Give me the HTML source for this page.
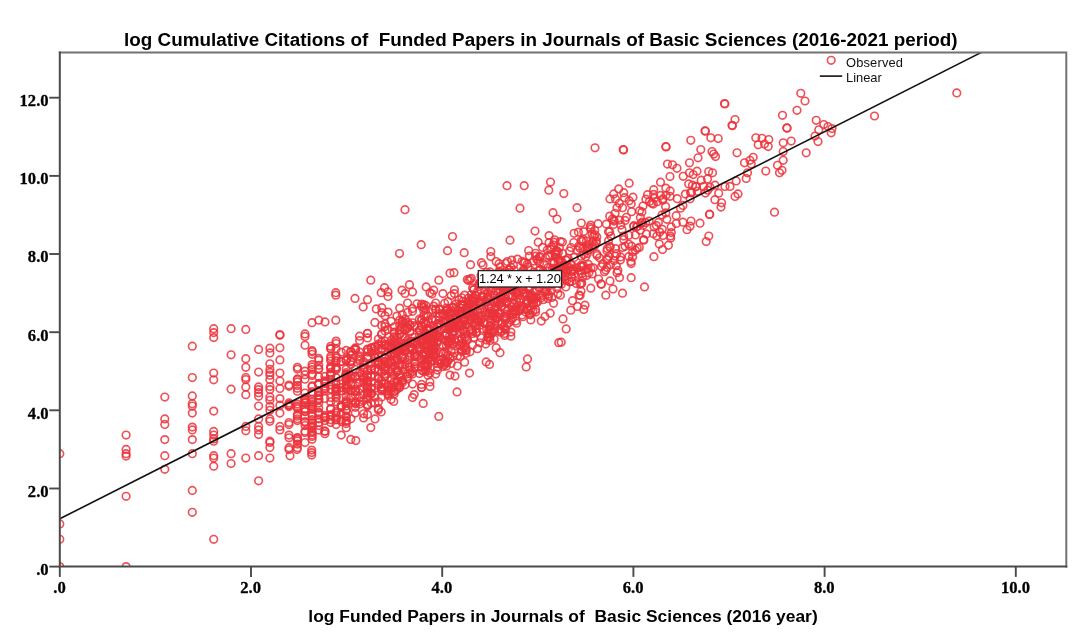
<!DOCTYPE html>
<html><head><meta charset="utf-8"><title>Scatter</title>
<style>
html,body{margin:0;padding:0;background:#fff;}
body{width:1087px;height:642px;overflow:hidden;}
svg{display:block;will-change:transform;}
svg{font-family:"Liberation Sans",sans-serif;}
.tk{font-family:"Liberation Serif",serif;font-weight:bold;font-size:17.2px;fill:#000;stroke:#000;stroke-width:0.3px;}
.ttl{font-weight:bold;fill:#000;}
.lg{font-size:12.9px;fill:#111;}
</style></head><body>
<svg width="1087" height="642" viewBox="0 0 1087 642">
<rect x="0" y="0" width="1087" height="642" fill="#fff"/>
<defs><clipPath id="cp"><rect x="59.8" y="52.4" width="1006.5" height="514.2"/></clipPath></defs>
<g clip-path="url(#cp)" fill="none" stroke="#eb333b" stroke-width="1.65" stroke-opacity="0.85">
<circle cx="59.8" cy="453.7" r="3.8"/><circle cx="59.8" cy="523.9" r="3.8"/><circle cx="59.8" cy="539.3" r="3.8"/><circle cx="59.8" cy="566.6" r="3.8"/><circle cx="126.1" cy="435.0" r="3.8"/><circle cx="126.1" cy="449.4" r="3.8"/>
<circle cx="126.1" cy="453.7" r="3.8"/><circle cx="126.1" cy="456.1" r="3.8"/><circle cx="126.1" cy="496.3" r="3.8"/><circle cx="126.1" cy="566.6" r="3.8"/><circle cx="164.8" cy="397.0" r="3.8"/><circle cx="164.8" cy="418.9" r="3.8"/>
<circle cx="164.8" cy="424.4" r="3.8"/><circle cx="164.8" cy="439.6" r="3.8"/><circle cx="164.8" cy="455.7" r="3.8"/><circle cx="164.8" cy="469.3" r="3.8"/><circle cx="192.3" cy="346.2" r="3.8"/><circle cx="192.3" cy="377.5" r="3.8"/>
<circle cx="192.3" cy="395.9" r="3.8"/><circle cx="192.3" cy="403.7" r="3.8"/><circle cx="192.3" cy="406.0" r="3.8"/><circle cx="192.3" cy="413.1" r="3.8"/><circle cx="192.3" cy="427.1" r="3.8"/><circle cx="192.3" cy="429.9" r="3.8"/>
<circle cx="192.3" cy="439.6" r="3.8"/><circle cx="192.3" cy="453.7" r="3.8"/><circle cx="192.3" cy="490.4" r="3.8"/><circle cx="192.3" cy="512.3" r="3.8"/><circle cx="213.7" cy="328.7" r="3.8"/><circle cx="213.7" cy="332.6" r="3.8"/>
<circle cx="213.7" cy="337.6" r="3.8"/><circle cx="213.7" cy="373.0" r="3.8"/><circle cx="213.7" cy="379.8" r="3.8"/><circle cx="213.7" cy="411.1" r="3.8"/><circle cx="213.7" cy="431.4" r="3.8"/><circle cx="213.7" cy="435.0" r="3.8"/>
<circle cx="213.7" cy="438.9" r="3.8"/><circle cx="213.7" cy="441.2" r="3.8"/><circle cx="213.7" cy="455.7" r="3.8"/><circle cx="213.7" cy="458.0" r="3.8"/><circle cx="213.7" cy="466.2" r="3.8"/><circle cx="213.7" cy="539.3" r="3.8"/>
<circle cx="231.1" cy="328.7" r="3.8"/><circle cx="231.1" cy="354.8" r="3.8"/><circle cx="231.1" cy="389.2" r="3.8"/><circle cx="231.1" cy="453.7" r="3.8"/><circle cx="231.1" cy="463.5" r="3.8"/><circle cx="245.8" cy="329.4" r="3.8"/>
<circle cx="245.8" cy="358.7" r="3.8"/><circle cx="245.8" cy="367.3" r="3.8"/><circle cx="245.8" cy="377.5" r="3.8"/><circle cx="245.8" cy="379.5" r="3.8"/><circle cx="245.8" cy="386.9" r="3.8"/><circle cx="245.8" cy="394.7" r="3.8"/>
<circle cx="245.8" cy="426.4" r="3.8"/><circle cx="245.8" cy="430.8" r="3.8"/><circle cx="245.8" cy="458.0" r="3.8"/><circle cx="258.6" cy="349.4" r="3.8"/><circle cx="258.6" cy="372.0" r="3.8"/><circle cx="258.6" cy="386.9" r="3.8"/>
<circle cx="258.6" cy="389.6" r="3.8"/><circle cx="258.6" cy="392.7" r="3.8"/><circle cx="258.6" cy="396.3" r="3.8"/><circle cx="258.6" cy="406.0" r="3.8"/><circle cx="258.6" cy="418.9" r="3.8"/><circle cx="258.6" cy="426.4" r="3.8"/>
<circle cx="258.6" cy="429.9" r="3.8"/><circle cx="258.6" cy="434.6" r="3.8"/><circle cx="258.6" cy="455.7" r="3.8"/><circle cx="258.6" cy="480.8" r="3.8"/><circle cx="269.9" cy="348.2" r="3.8"/><circle cx="269.9" cy="352.9" r="3.8"/>
<circle cx="269.9" cy="363.8" r="3.8"/><circle cx="269.9" cy="369.3" r="3.8"/><circle cx="269.9" cy="372.4" r="3.8"/><circle cx="269.9" cy="375.2" r="3.8"/><circle cx="269.9" cy="379.8" r="3.8"/><circle cx="269.9" cy="386.5" r="3.8"/>
<circle cx="269.9" cy="389.6" r="3.8"/><circle cx="269.9" cy="397.0" r="3.8"/><circle cx="269.9" cy="400.2" r="3.8"/><circle cx="269.9" cy="406.4" r="3.8"/><circle cx="269.9" cy="410.3" r="3.8"/><circle cx="269.9" cy="418.9" r="3.8"/>
<circle cx="269.9" cy="421.3" r="3.8"/><circle cx="269.9" cy="441.2" r="3.8"/><circle cx="269.9" cy="442.4" r="3.8"/><circle cx="269.9" cy="447.5" r="3.8"/><circle cx="269.9" cy="458.0" r="3.8"/><circle cx="279.9" cy="334.5" r="3.8"/>
<circle cx="279.9" cy="335.3" r="3.8"/><circle cx="279.9" cy="347.8" r="3.8"/><circle cx="279.9" cy="359.9" r="3.8"/><circle cx="279.9" cy="373.0" r="3.8"/><circle cx="279.9" cy="381.0" r="3.8"/><circle cx="279.9" cy="388.4" r="3.8"/>
<circle cx="279.9" cy="398.6" r="3.8"/><circle cx="279.9" cy="405.2" r="3.8"/><circle cx="279.9" cy="413.1" r="3.8"/><circle cx="279.9" cy="426.4" r="3.8"/><circle cx="279.9" cy="429.9" r="3.8"/><circle cx="405.0" cy="209.7" r="3.8"/>
<circle cx="507.0" cy="185.7" r="3.8"/><circle cx="524.2" cy="185.7" r="3.8"/><circle cx="550.5" cy="182.0" r="3.8"/><circle cx="548.8" cy="190.2" r="3.8"/><circle cx="520.0" cy="208.2" r="3.8"/><circle cx="553.0" cy="212.7" r="3.8"/>
<circle cx="557.0" cy="219.0" r="3.8"/><circle cx="535.0" cy="231.0" r="3.8"/><circle cx="510.0" cy="240.2" r="3.8"/><circle cx="452.5" cy="236.5" r="3.8"/><circle cx="421.2" cy="244.7" r="3.8"/><circle cx="399.5" cy="253.5" r="3.8"/>
<circle cx="447.5" cy="250.7" r="3.8"/><circle cx="464.2" cy="252.7" r="3.8"/><circle cx="490.8" cy="251.5" r="3.8"/><circle cx="490.8" cy="256.5" r="3.8"/><circle cx="470.5" cy="264.7" r="3.8"/><circle cx="481.5" cy="262.7" r="3.8"/>
<circle cx="483.0" cy="265.0" r="3.8"/><circle cx="450.0" cy="273.2" r="3.8"/><circle cx="454.0" cy="272.7" r="3.8"/><circle cx="438.8" cy="280.2" r="3.8"/><circle cx="370.8" cy="280.2" r="3.8"/><circle cx="335.8" cy="292.7" r="3.8"/>
<circle cx="335.8" cy="295.2" r="3.8"/><circle cx="355.0" cy="298.4" r="3.8"/><circle cx="367.5" cy="299.7" r="3.8"/><circle cx="363.2" cy="306.9" r="3.8"/><circle cx="384.5" cy="287.7" r="3.8"/><circle cx="381.2" cy="292.7" r="3.8"/>
<circle cx="388.0" cy="291.9" r="3.8"/><circle cx="388.0" cy="296.4" r="3.8"/><circle cx="376.3" cy="308.9" r="3.8"/><circle cx="381.8" cy="307.7" r="3.8"/><circle cx="381.8" cy="312.7" r="3.8"/><circle cx="409.5" cy="284.7" r="3.8"/>
<circle cx="402.0" cy="290.2" r="3.8"/><circle cx="405.0" cy="293.4" r="3.8"/><circle cx="412.5" cy="291.9" r="3.8"/><circle cx="312.0" cy="322.7" r="3.8"/><circle cx="318.8" cy="320.2" r="3.8"/><circle cx="325.0" cy="321.9" r="3.8"/>
<circle cx="335.8" cy="320.2" r="3.8"/><circle cx="426.2" cy="286.9" r="3.8"/><circle cx="430.0" cy="292.7" r="3.8"/><circle cx="433.7" cy="290.2" r="3.8"/><circle cx="305.0" cy="333.9" r="3.8"/><circle cx="305.0" cy="336.4" r="3.8"/>
<circle cx="305.0" cy="345.2" r="3.8"/><circle cx="311.7" cy="450.1" r="3.8"/><circle cx="311.7" cy="452.6" r="3.8"/><circle cx="311.7" cy="455.1" r="3.8"/><circle cx="297.0" cy="449.6" r="3.8"/><circle cx="290.0" cy="455.8" r="3.8"/>
<circle cx="341.2" cy="435.1" r="3.8"/><circle cx="350.8" cy="439.4" r="3.8"/><circle cx="355.8" cy="440.6" r="3.8"/><circle cx="370.8" cy="427.6" r="3.8"/><circle cx="375.0" cy="418.9" r="3.8"/><circle cx="381.2" cy="411.9" r="3.8"/>
<circle cx="438.8" cy="416.4" r="3.8"/><circle cx="423.2" cy="403.4" r="3.8"/><circle cx="457.0" cy="391.9" r="3.8"/><circle cx="469.5" cy="373.1" r="3.8"/><circle cx="526.2" cy="366.9" r="3.8"/><circle cx="527.5" cy="358.9" r="3.8"/>
<circle cx="558.7" cy="342.7" r="3.8"/><circle cx="489.5" cy="364.4" r="3.8"/><circle cx="486.2" cy="361.9" r="3.8"/><circle cx="500.0" cy="352.7" r="3.8"/><circle cx="496.2" cy="347.7" r="3.8"/><circle cx="430.0" cy="386.4" r="3.8"/>
<circle cx="412.5" cy="397.6" r="3.8"/><circle cx="414.2" cy="394.6" r="3.8"/><circle cx="393.8" cy="401.4" r="3.8"/><circle cx="455.0" cy="376.1" r="3.8"/><circle cx="450.0" cy="375.1" r="3.8"/><circle cx="595.0" cy="147.8" r="3.8"/>
<circle cx="623.2" cy="149.5" r="3.8"/><circle cx="623.6" cy="149.9" r="3.8"/><circle cx="665.8" cy="146.5" r="3.8"/><circle cx="666.1" cy="146.9" r="3.8"/><circle cx="724.5" cy="103.5" r="3.8"/><circle cx="724.9" cy="103.9" r="3.8"/>
<circle cx="735.0" cy="119.5" r="3.8"/><circle cx="732.0" cy="125.3" r="3.8"/><circle cx="732.4" cy="125.7" r="3.8"/><circle cx="705.0" cy="130.8" r="3.8"/><circle cx="705.4" cy="131.2" r="3.8"/><circle cx="710.8" cy="137.8" r="3.8"/>
<circle cx="718.2" cy="138.5" r="3.8"/><circle cx="690.8" cy="140.3" r="3.8"/><circle cx="700.8" cy="149.5" r="3.8"/><circle cx="698.0" cy="157.8" r="3.8"/><circle cx="712.0" cy="151.5" r="3.8"/><circle cx="713.7" cy="154.0" r="3.8"/>
<circle cx="715.5" cy="156.5" r="3.8"/><circle cx="737.0" cy="152.8" r="3.8"/><circle cx="689.5" cy="162.8" r="3.8"/><circle cx="667.5" cy="164.0" r="3.8"/><circle cx="672.5" cy="164.8" r="3.8"/><circle cx="677.0" cy="168.3" r="3.8"/>
<circle cx="670.0" cy="176.5" r="3.8"/><circle cx="660.5" cy="182.2" r="3.8"/><circle cx="629.2" cy="183.2" r="3.8"/><circle cx="618.7" cy="188.9" r="3.8"/><circle cx="623.7" cy="192.7" r="3.8"/><circle cx="613.7" cy="193.9" r="3.8"/>
<circle cx="610.0" cy="198.9" r="3.8"/><circle cx="615.5" cy="198.9" r="3.8"/><circle cx="624.5" cy="197.7" r="3.8"/><circle cx="633.0" cy="197.2" r="3.8"/><circle cx="631.2" cy="203.9" r="3.8"/><circle cx="622.5" cy="207.7" r="3.8"/>
<circle cx="563.8" cy="193.5" r="3.8"/><circle cx="577.0" cy="207.7" r="3.8"/><circle cx="689.5" cy="172.8" r="3.8"/><circle cx="693.2" cy="174.5" r="3.8"/><circle cx="688.7" cy="183.9" r="3.8"/><circle cx="692.5" cy="185.2" r="3.8"/>
<circle cx="696.2" cy="186.4" r="3.8"/><circle cx="708.7" cy="171.5" r="3.8"/><circle cx="712.5" cy="172.8" r="3.8"/><circle cx="707.5" cy="178.9" r="3.8"/><circle cx="701.2" cy="180.2" r="3.8"/><circle cx="703.7" cy="186.4" r="3.8"/>
<circle cx="710.0" cy="187.2" r="3.8"/><circle cx="653.7" cy="189.7" r="3.8"/><circle cx="647.5" cy="194.7" r="3.8"/><circle cx="649.5" cy="201.4" r="3.8"/><circle cx="800.8" cy="93.3" r="3.8"/><circle cx="805.0" cy="101.0" r="3.8"/>
<circle cx="797.0" cy="110.3" r="3.8"/><circle cx="782.5" cy="115.3" r="3.8"/><circle cx="786.8" cy="127.8" r="3.8"/><circle cx="787.1" cy="128.2" r="3.8"/><circle cx="816.2" cy="120.3" r="3.8"/><circle cx="823.8" cy="124.5" r="3.8"/>
<circle cx="828.0" cy="126.5" r="3.8"/><circle cx="832.0" cy="128.5" r="3.8"/><circle cx="818.8" cy="129.8" r="3.8"/><circle cx="831.2" cy="132.8" r="3.8"/><circle cx="815.0" cy="136.0" r="3.8"/><circle cx="818.0" cy="141.5" r="3.8"/>
<circle cx="755.8" cy="137.8" r="3.8"/><circle cx="762.0" cy="138.3" r="3.8"/><circle cx="768.8" cy="139.5" r="3.8"/><circle cx="758.2" cy="144.8" r="3.8"/><circle cx="764.5" cy="144.0" r="3.8"/><circle cx="768.2" cy="146.5" r="3.8"/>
<circle cx="783.2" cy="142.8" r="3.8"/><circle cx="791.2" cy="141.0" r="3.8"/><circle cx="783.2" cy="151.5" r="3.8"/><circle cx="806.2" cy="152.8" r="3.8"/><circle cx="783.2" cy="160.3" r="3.8"/><circle cx="777.5" cy="165.3" r="3.8"/>
<circle cx="782.0" cy="170.3" r="3.8"/><circle cx="779.5" cy="172.8" r="3.8"/><circle cx="765.8" cy="171.0" r="3.8"/><circle cx="753.2" cy="157.3" r="3.8"/><circle cx="750.0" cy="160.3" r="3.8"/><circle cx="751.2" cy="164.0" r="3.8"/>
<circle cx="744.5" cy="162.8" r="3.8"/><circle cx="747.5" cy="172.8" r="3.8"/><circle cx="746.2" cy="178.4" r="3.8"/><circle cx="736.2" cy="180.9" r="3.8"/><circle cx="738.0" cy="193.9" r="3.8"/><circle cx="735.0" cy="196.4" r="3.8"/>
<circle cx="725.0" cy="186.4" r="3.8"/><circle cx="730.0" cy="186.4" r="3.8"/><circle cx="718.7" cy="193.2" r="3.8"/><circle cx="715.0" cy="185.2" r="3.8"/><circle cx="874.5" cy="116.0" r="3.8"/><circle cx="956.8" cy="92.9" r="3.8"/>
<circle cx="774.5" cy="212.2" r="3.8"/><circle cx="721.0" cy="207.0" r="3.8"/><circle cx="709.5" cy="214.5" r="3.8"/><circle cx="700.0" cy="223.2" r="3.8"/><circle cx="691.0" cy="221.0" r="3.8"/><circle cx="687.0" cy="229.7" r="3.8"/>
<circle cx="690.0" cy="226.2" r="3.8"/><circle cx="708.8" cy="236.0" r="3.8"/><circle cx="706.2" cy="241.5" r="3.8"/><circle cx="662.5" cy="249.5" r="3.8"/><circle cx="643.8" cy="240.2" r="3.8"/><circle cx="631.2" cy="263.5" r="3.8"/>
<circle cx="631.2" cy="277.7" r="3.8"/><circle cx="644.5" cy="286.9" r="3.8"/><circle cx="617.0" cy="272.7" r="3.8"/><circle cx="616.2" cy="265.7" r="3.8"/><circle cx="622.5" cy="293.2" r="3.8"/><circle cx="613.0" cy="288.9" r="3.8"/>
<circle cx="605.8" cy="295.2" r="3.8"/><circle cx="610.0" cy="280.9" r="3.8"/><circle cx="601.0" cy="283.9" r="3.8"/><circle cx="601.4" cy="284.3" r="3.8"/><circle cx="590.8" cy="288.2" r="3.8"/><circle cx="581.0" cy="291.2" r="3.8"/>
<circle cx="579.0" cy="295.2" r="3.8"/><circle cx="572.5" cy="300.7" r="3.8"/><circle cx="577.5" cy="306.4" r="3.8"/><circle cx="585.0" cy="305.2" r="3.8"/><circle cx="583.8" cy="309.4" r="3.8"/><circle cx="570.8" cy="310.2" r="3.8"/>
<circle cx="563.0" cy="318.9" r="3.8"/><circle cx="566.2" cy="328.9" r="3.8"/><circle cx="561.2" cy="342.2" r="3.8"/><circle cx="509.2" cy="269.9" r="3.8"/><circle cx="405.0" cy="345.5" r="3.8"/><circle cx="394.1" cy="353.6" r="3.8"/>
<circle cx="451.2" cy="338.6" r="3.8"/><circle cx="546.8" cy="282.1" r="3.8"/><circle cx="388.1" cy="345.9" r="3.8"/><circle cx="488.9" cy="329.6" r="3.8"/><circle cx="483.4" cy="329.1" r="3.8"/><circle cx="514.2" cy="283.4" r="3.8"/>
<circle cx="566.8" cy="280.4" r="3.8"/><circle cx="374.9" cy="357.9" r="3.8"/><circle cx="324.9" cy="380.9" r="3.8"/><circle cx="374.9" cy="397.4" r="3.8"/><circle cx="429.9" cy="353.1" r="3.8"/><circle cx="346.2" cy="421.5" r="3.8"/>
<circle cx="542.6" cy="247.4" r="3.8"/><circle cx="346.2" cy="386.7" r="3.8"/><circle cx="399.7" cy="308.1" r="3.8"/><circle cx="419.4" cy="347.1" r="3.8"/><circle cx="410.0" cy="343.0" r="3.8"/><circle cx="449.6" cy="328.5" r="3.8"/>
<circle cx="656.9" cy="236.0" r="3.8"/><circle cx="613.9" cy="221.0" r="3.8"/><circle cx="350.9" cy="352.0" r="3.8"/><circle cx="473.8" cy="313.3" r="3.8"/><circle cx="497.1" cy="302.0" r="3.8"/><circle cx="330.7" cy="419.7" r="3.8"/>
<circle cx="330.7" cy="374.4" r="3.8"/><circle cx="606.7" cy="259.1" r="3.8"/><circle cx="405.0" cy="358.6" r="3.8"/><circle cx="473.8" cy="297.6" r="3.8"/><circle cx="452.8" cy="318.3" r="3.8"/><circle cx="520.6" cy="308.9" r="3.8"/>
<circle cx="374.9" cy="347.0" r="3.8"/><circle cx="665.8" cy="212.9" r="3.8"/><circle cx="498.1" cy="289.4" r="3.8"/><circle cx="439.4" cy="336.4" r="3.8"/><circle cx="444.6" cy="303.3" r="3.8"/><circle cx="336.1" cy="377.6" r="3.8"/>
<circle cx="388.1" cy="362.4" r="3.8"/><circle cx="471.3" cy="309.6" r="3.8"/><circle cx="385.0" cy="345.6" r="3.8"/><circle cx="423.7" cy="359.8" r="3.8"/><circle cx="449.6" cy="327.9" r="3.8"/><circle cx="410.0" cy="347.0" r="3.8"/>
<circle cx="490.0" cy="271.9" r="3.8"/><circle cx="318.7" cy="392.1" r="3.8"/><circle cx="388.1" cy="345.6" r="3.8"/><circle cx="367.5" cy="386.7" r="3.8"/><circle cx="435.7" cy="346.9" r="3.8"/><circle cx="572.8" cy="269.3" r="3.8"/>
<circle cx="548.5" cy="296.2" r="3.8"/><circle cx="596.4" cy="241.1" r="3.8"/><circle cx="378.4" cy="369.6" r="3.8"/><circle cx="312.1" cy="408.0" r="3.8"/><circle cx="515.1" cy="312.2" r="3.8"/><circle cx="410.0" cy="331.7" r="3.8"/>
<circle cx="385.0" cy="376.1" r="3.8"/><circle cx="452.8" cy="307.1" r="3.8"/><circle cx="543.2" cy="299.7" r="3.8"/><circle cx="405.0" cy="351.0" r="3.8"/><circle cx="435.7" cy="374.1" r="3.8"/><circle cx="452.8" cy="356.4" r="3.8"/>
<circle cx="414.8" cy="364.1" r="3.8"/><circle cx="402.4" cy="356.8" r="3.8"/><circle cx="312.1" cy="406.6" r="3.8"/><circle cx="423.7" cy="307.4" r="3.8"/><circle cx="545.6" cy="291.3" r="3.8"/><circle cx="599.5" cy="257.8" r="3.8"/>
<circle cx="394.1" cy="354.0" r="3.8"/><circle cx="346.2" cy="410.0" r="3.8"/><circle cx="551.3" cy="290.3" r="3.8"/><circle cx="602.8" cy="263.7" r="3.8"/><circle cx="476.3" cy="328.7" r="3.8"/><circle cx="566.8" cy="265.7" r="3.8"/>
<circle cx="433.8" cy="346.0" r="3.8"/><circle cx="330.7" cy="361.0" r="3.8"/><circle cx="425.8" cy="360.2" r="3.8"/><circle cx="454.4" cy="289.8" r="3.8"/><circle cx="336.1" cy="355.9" r="3.8"/><circle cx="367.5" cy="333.5" r="3.8"/>
<circle cx="479.9" cy="282.4" r="3.8"/><circle cx="374.9" cy="361.2" r="3.8"/><circle cx="564.9" cy="276.4" r="3.8"/><circle cx="662.7" cy="200.3" r="3.8"/><circle cx="512.6" cy="289.5" r="3.8"/><circle cx="454.4" cy="339.4" r="3.8"/>
<circle cx="579.7" cy="248.1" r="3.8"/><circle cx="507.4" cy="261.5" r="3.8"/><circle cx="463.2" cy="329.0" r="3.8"/><circle cx="476.3" cy="333.0" r="3.8"/><circle cx="515.1" cy="282.4" r="3.8"/><circle cx="417.1" cy="350.6" r="3.8"/>
<circle cx="454.4" cy="327.2" r="3.8"/><circle cx="355.3" cy="347.9" r="3.8"/><circle cx="431.9" cy="318.4" r="3.8"/><circle cx="355.3" cy="348.9" r="3.8"/><circle cx="452.8" cy="307.5" r="3.8"/><circle cx="410.0" cy="370.1" r="3.8"/>
<circle cx="501.0" cy="301.8" r="3.8"/><circle cx="427.9" cy="346.0" r="3.8"/><circle cx="444.6" cy="328.3" r="3.8"/><circle cx="554.1" cy="263.2" r="3.8"/><circle cx="497.1" cy="316.7" r="3.8"/><circle cx="359.6" cy="340.6" r="3.8"/>
<circle cx="530.8" cy="319.9" r="3.8"/><circle cx="448.0" cy="341.7" r="3.8"/><circle cx="515.9" cy="289.3" r="3.8"/><circle cx="473.8" cy="306.6" r="3.8"/><circle cx="477.5" cy="310.7" r="3.8"/><circle cx="491.0" cy="329.3" r="3.8"/>
<circle cx="381.7" cy="390.8" r="3.8"/><circle cx="425.8" cy="370.1" r="3.8"/><circle cx="571.0" cy="247.5" r="3.8"/><circle cx="412.5" cy="308.5" r="3.8"/><circle cx="538.2" cy="282.1" r="3.8"/><circle cx="363.6" cy="413.8" r="3.8"/>
<circle cx="475.1" cy="308.5" r="3.8"/><circle cx="385.0" cy="330.9" r="3.8"/><circle cx="410.0" cy="341.7" r="3.8"/><circle cx="569.6" cy="281.8" r="3.8"/><circle cx="451.2" cy="350.7" r="3.8"/><circle cx="336.1" cy="388.7" r="3.8"/>
<circle cx="530.2" cy="287.5" r="3.8"/><circle cx="490.0" cy="311.0" r="3.8"/><circle cx="391.1" cy="362.4" r="3.8"/><circle cx="570.5" cy="264.0" r="3.8"/><circle cx="359.6" cy="404.1" r="3.8"/><circle cx="433.8" cy="348.9" r="3.8"/>
<circle cx="637.5" cy="226.3" r="3.8"/><circle cx="550.2" cy="313.2" r="3.8"/><circle cx="646.4" cy="233.9" r="3.8"/><circle cx="461.8" cy="312.5" r="3.8"/><circle cx="534.9" cy="282.8" r="3.8"/><circle cx="312.1" cy="435.1" r="3.8"/>
<circle cx="494.1" cy="313.7" r="3.8"/><circle cx="495.2" cy="321.0" r="3.8"/><circle cx="388.1" cy="329.6" r="3.8"/><circle cx="461.8" cy="325.7" r="3.8"/><circle cx="483.4" cy="282.4" r="3.8"/><circle cx="467.3" cy="307.4" r="3.8"/>
<circle cx="486.7" cy="298.9" r="3.8"/><circle cx="548.5" cy="294.2" r="3.8"/><circle cx="336.1" cy="390.8" r="3.8"/><circle cx="297.4" cy="447.7" r="3.8"/><circle cx="427.9" cy="316.0" r="3.8"/><circle cx="367.5" cy="414.6" r="3.8"/>
<circle cx="522.9" cy="270.9" r="3.8"/><circle cx="585.7" cy="269.5" r="3.8"/><circle cx="493.1" cy="280.4" r="3.8"/><circle cx="523.7" cy="284.6" r="3.8"/><circle cx="324.9" cy="388.3" r="3.8"/><circle cx="534.2" cy="284.3" r="3.8"/>
<circle cx="475.1" cy="317.9" r="3.8"/><circle cx="385.0" cy="384.0" r="3.8"/><circle cx="381.7" cy="342.0" r="3.8"/><circle cx="433.8" cy="331.8" r="3.8"/><circle cx="533.6" cy="278.8" r="3.8"/><circle cx="324.9" cy="415.4" r="3.8"/>
<circle cx="381.7" cy="387.5" r="3.8"/><circle cx="488.9" cy="313.7" r="3.8"/><circle cx="297.4" cy="385.5" r="3.8"/><circle cx="419.4" cy="373.5" r="3.8"/><circle cx="312.1" cy="350.7" r="3.8"/><circle cx="433.8" cy="341.3" r="3.8"/>
<circle cx="346.2" cy="416.2" r="3.8"/><circle cx="355.3" cy="391.7" r="3.8"/><circle cx="346.2" cy="372.7" r="3.8"/><circle cx="439.4" cy="313.6" r="3.8"/><circle cx="649.2" cy="221.1" r="3.8"/><circle cx="573.7" cy="271.1" r="3.8"/>
<circle cx="359.6" cy="357.3" r="3.8"/><circle cx="505.6" cy="296.7" r="3.8"/><circle cx="385.0" cy="315.8" r="3.8"/><circle cx="504.7" cy="333.4" r="3.8"/><circle cx="336.1" cy="413.0" r="3.8"/><circle cx="442.9" cy="366.6" r="3.8"/>
<circle cx="490.0" cy="340.6" r="3.8"/><circle cx="626.4" cy="217.3" r="3.8"/><circle cx="498.1" cy="313.0" r="3.8"/><circle cx="318.7" cy="413.0" r="3.8"/><circle cx="378.4" cy="363.3" r="3.8"/><circle cx="350.9" cy="376.4" r="3.8"/>
<circle cx="359.6" cy="382.3" r="3.8"/><circle cx="437.5" cy="323.9" r="3.8"/><circle cx="446.3" cy="362.4" r="3.8"/><circle cx="318.7" cy="358.4" r="3.8"/><circle cx="429.9" cy="357.5" r="3.8"/><circle cx="346.2" cy="359.4" r="3.8"/>
<circle cx="324.9" cy="381.6" r="3.8"/><circle cx="449.6" cy="336.0" r="3.8"/><circle cx="312.1" cy="385.9" r="3.8"/><circle cx="635.4" cy="250.2" r="3.8"/><circle cx="560.4" cy="241.6" r="3.8"/><circle cx="451.2" cy="311.3" r="3.8"/>
<circle cx="521.4" cy="306.3" r="3.8"/><circle cx="541.3" cy="277.8" r="3.8"/><circle cx="504.7" cy="328.7" r="3.8"/><circle cx="485.6" cy="276.5" r="3.8"/><circle cx="378.4" cy="377.6" r="3.8"/><circle cx="448.0" cy="312.6" r="3.8"/>
<circle cx="431.9" cy="334.9" r="3.8"/><circle cx="460.3" cy="304.5" r="3.8"/><circle cx="394.1" cy="360.2" r="3.8"/><circle cx="297.4" cy="418.8" r="3.8"/><circle cx="394.1" cy="381.9" r="3.8"/><circle cx="507.4" cy="301.3" r="3.8"/>
<circle cx="359.6" cy="361.0" r="3.8"/><circle cx="573.7" cy="242.5" r="3.8"/><circle cx="371.3" cy="347.6" r="3.8"/><circle cx="355.3" cy="413.0" r="3.8"/><circle cx="553.0" cy="283.7" r="3.8"/><circle cx="363.6" cy="379.6" r="3.8"/>
<circle cx="670.7" cy="237.9" r="3.8"/><circle cx="336.1" cy="341.1" r="3.8"/><circle cx="500.1" cy="296.2" r="3.8"/><circle cx="517.5" cy="259.1" r="3.8"/><circle cx="530.2" cy="314.8" r="3.8"/><circle cx="336.1" cy="367.3" r="3.8"/>
<circle cx="429.9" cy="373.0" r="3.8"/><circle cx="581.3" cy="283.7" r="3.8"/><circle cx="657.3" cy="201.7" r="3.8"/><circle cx="394.1" cy="332.7" r="3.8"/><circle cx="371.3" cy="393.0" r="3.8"/><circle cx="346.2" cy="402.9" r="3.8"/>
<circle cx="448.0" cy="355.3" r="3.8"/><circle cx="467.3" cy="311.4" r="3.8"/><circle cx="318.7" cy="383.7" r="3.8"/><circle cx="562.9" cy="266.7" r="3.8"/><circle cx="504.7" cy="335.4" r="3.8"/><circle cx="590.7" cy="225.1" r="3.8"/>
<circle cx="452.8" cy="331.3" r="3.8"/><circle cx="312.1" cy="427.7" r="3.8"/><circle cx="460.3" cy="326.4" r="3.8"/><circle cx="538.2" cy="242.2" r="3.8"/><circle cx="498.1" cy="322.4" r="3.8"/><circle cx="516.7" cy="293.1" r="3.8"/>
<circle cx="451.2" cy="295.6" r="3.8"/><circle cx="543.8" cy="273.1" r="3.8"/><circle cx="381.7" cy="396.9" r="3.8"/><circle cx="577.6" cy="250.2" r="3.8"/><circle cx="324.9" cy="431.2" r="3.8"/><circle cx="532.9" cy="280.0" r="3.8"/>
<circle cx="437.5" cy="361.0" r="3.8"/><circle cx="596.8" cy="237.0" r="3.8"/><circle cx="554.1" cy="283.2" r="3.8"/><circle cx="414.8" cy="326.9" r="3.8"/><circle cx="534.2" cy="272.1" r="3.8"/><circle cx="396.9" cy="354.3" r="3.8"/>
<circle cx="427.9" cy="351.0" r="3.8"/><circle cx="481.1" cy="302.1" r="3.8"/><circle cx="556.2" cy="254.7" r="3.8"/><circle cx="399.7" cy="387.5" r="3.8"/><circle cx="425.8" cy="337.7" r="3.8"/><circle cx="346.2" cy="350.4" r="3.8"/>
<circle cx="580.1" cy="284.1" r="3.8"/><circle cx="355.3" cy="376.4" r="3.8"/><circle cx="355.3" cy="401.8" r="3.8"/><circle cx="355.3" cy="403.5" r="3.8"/><circle cx="419.4" cy="330.0" r="3.8"/><circle cx="455.9" cy="303.9" r="3.8"/>
<circle cx="297.4" cy="414.6" r="3.8"/><circle cx="482.2" cy="300.4" r="3.8"/><circle cx="427.9" cy="330.4" r="3.8"/><circle cx="494.1" cy="339.0" r="3.8"/><circle cx="641.0" cy="223.4" r="3.8"/><circle cx="576.7" cy="267.9" r="3.8"/>
<circle cx="560.4" cy="261.2" r="3.8"/><circle cx="490.0" cy="279.8" r="3.8"/><circle cx="506.5" cy="303.6" r="3.8"/><circle cx="305.0" cy="409.3" r="3.8"/><circle cx="490.0" cy="295.5" r="3.8"/><circle cx="399.7" cy="333.8" r="3.8"/>
<circle cx="391.1" cy="321.3" r="3.8"/><circle cx="466.0" cy="308.3" r="3.8"/><circle cx="350.9" cy="361.6" r="3.8"/><circle cx="549.1" cy="242.6" r="3.8"/><circle cx="289.0" cy="406.6" r="3.8"/><circle cx="472.6" cy="299.8" r="3.8"/>
<circle cx="488.9" cy="334.2" r="3.8"/><circle cx="559.4" cy="247.5" r="3.8"/><circle cx="410.0" cy="347.0" r="3.8"/><circle cx="407.6" cy="373.8" r="3.8"/><circle cx="423.7" cy="364.6" r="3.8"/><circle cx="481.1" cy="318.7" r="3.8"/>
<circle cx="312.1" cy="432.4" r="3.8"/><circle cx="429.9" cy="338.3" r="3.8"/><circle cx="437.5" cy="335.8" r="3.8"/><circle cx="446.3" cy="345.1" r="3.8"/><circle cx="464.6" cy="337.5" r="3.8"/><circle cx="363.6" cy="377.3" r="3.8"/>
<circle cx="402.4" cy="344.1" r="3.8"/><circle cx="396.9" cy="371.6" r="3.8"/><circle cx="503.8" cy="326.5" r="3.8"/><circle cx="633.8" cy="226.5" r="3.8"/><circle cx="515.9" cy="310.4" r="3.8"/><circle cx="427.9" cy="339.2" r="3.8"/>
<circle cx="402.4" cy="346.4" r="3.8"/><circle cx="477.5" cy="348.7" r="3.8"/><circle cx="475.1" cy="325.5" r="3.8"/><circle cx="691.5" cy="192.8" r="3.8"/><circle cx="487.8" cy="296.7" r="3.8"/><circle cx="500.1" cy="289.6" r="3.8"/>
<circle cx="471.3" cy="319.0" r="3.8"/><circle cx="346.2" cy="423.5" r="3.8"/><circle cx="399.7" cy="363.7" r="3.8"/><circle cx="522.1" cy="279.2" r="3.8"/><circle cx="448.0" cy="342.5" r="3.8"/><circle cx="439.4" cy="337.5" r="3.8"/>
<circle cx="427.9" cy="365.5" r="3.8"/><circle cx="547.9" cy="255.4" r="3.8"/><circle cx="312.1" cy="422.5" r="3.8"/><circle cx="451.2" cy="363.5" r="3.8"/><circle cx="508.3" cy="295.5" r="3.8"/><circle cx="528.0" cy="310.3" r="3.8"/>
<circle cx="643.6" cy="239.6" r="3.8"/><circle cx="289.0" cy="402.9" r="3.8"/><circle cx="423.7" cy="331.1" r="3.8"/><circle cx="318.7" cy="399.5" r="3.8"/><circle cx="374.9" cy="369.8" r="3.8"/><circle cx="490.0" cy="315.9" r="3.8"/>
<circle cx="407.6" cy="327.5" r="3.8"/><circle cx="419.4" cy="347.9" r="3.8"/><circle cx="437.5" cy="342.6" r="3.8"/><circle cx="341.3" cy="387.5" r="3.8"/><circle cx="458.9" cy="345.3" r="3.8"/><circle cx="457.4" cy="365.9" r="3.8"/>
<circle cx="363.6" cy="387.1" r="3.8"/><circle cx="402.4" cy="336.3" r="3.8"/><circle cx="394.1" cy="326.9" r="3.8"/><circle cx="500.1" cy="266.9" r="3.8"/><circle cx="425.8" cy="315.9" r="3.8"/><circle cx="414.8" cy="366.6" r="3.8"/>
<circle cx="324.9" cy="388.7" r="3.8"/><circle cx="289.0" cy="447.7" r="3.8"/><circle cx="595.0" cy="234.8" r="3.8"/><circle cx="494.1" cy="330.5" r="3.8"/><circle cx="560.9" cy="274.1" r="3.8"/><circle cx="471.3" cy="329.7" r="3.8"/>
<circle cx="482.2" cy="295.7" r="3.8"/><circle cx="529.4" cy="276.6" r="3.8"/><circle cx="523.7" cy="269.7" r="3.8"/><circle cx="385.0" cy="370.3" r="3.8"/><circle cx="502.9" cy="300.0" r="3.8"/><circle cx="497.1" cy="279.1" r="3.8"/>
<circle cx="466.0" cy="348.0" r="3.8"/><circle cx="586.5" cy="241.0" r="3.8"/><circle cx="336.1" cy="367.3" r="3.8"/><circle cx="546.8" cy="276.8" r="3.8"/><circle cx="410.0" cy="324.9" r="3.8"/><circle cx="541.3" cy="279.5" r="3.8"/>
<circle cx="697.2" cy="191.3" r="3.8"/><circle cx="486.7" cy="323.9" r="3.8"/><circle cx="435.7" cy="352.6" r="3.8"/><circle cx="367.5" cy="381.6" r="3.8"/><circle cx="412.5" cy="342.0" r="3.8"/><circle cx="540.7" cy="284.0" r="3.8"/>
<circle cx="501.0" cy="298.3" r="3.8"/><circle cx="402.4" cy="354.3" r="3.8"/><circle cx="423.7" cy="339.9" r="3.8"/><circle cx="503.8" cy="276.4" r="3.8"/><circle cx="341.3" cy="413.8" r="3.8"/><circle cx="324.9" cy="417.0" r="3.8"/>
<circle cx="470.0" cy="279.3" r="3.8"/><circle cx="614.2" cy="260.5" r="3.8"/><circle cx="558.3" cy="267.8" r="3.8"/><circle cx="509.2" cy="322.6" r="3.8"/><circle cx="628.9" cy="235.2" r="3.8"/><circle cx="417.1" cy="344.8" r="3.8"/>
<circle cx="574.1" cy="257.5" r="3.8"/><circle cx="676.3" cy="223.4" r="3.8"/><circle cx="538.2" cy="261.1" r="3.8"/><circle cx="437.5" cy="363.5" r="3.8"/><circle cx="330.7" cy="379.6" r="3.8"/><circle cx="391.1" cy="380.2" r="3.8"/>
<circle cx="439.4" cy="324.6" r="3.8"/><circle cx="607.0" cy="267.4" r="3.8"/><circle cx="399.7" cy="375.0" r="3.8"/><circle cx="305.0" cy="442.5" r="3.8"/><circle cx="324.9" cy="433.7" r="3.8"/><circle cx="419.4" cy="349.5" r="3.8"/>
<circle cx="371.3" cy="394.0" r="3.8"/><circle cx="381.7" cy="356.6" r="3.8"/><circle cx="341.3" cy="407.3" r="3.8"/><circle cx="473.8" cy="300.9" r="3.8"/><circle cx="419.4" cy="335.2" r="3.8"/><circle cx="463.2" cy="329.9" r="3.8"/>
<circle cx="656.4" cy="225.6" r="3.8"/><circle cx="496.2" cy="319.0" r="3.8"/><circle cx="419.4" cy="319.2" r="3.8"/><circle cx="449.6" cy="312.7" r="3.8"/><circle cx="571.9" cy="265.2" r="3.8"/><circle cx="612.4" cy="219.0" r="3.8"/>
<circle cx="532.2" cy="302.7" r="3.8"/><circle cx="490.0" cy="325.7" r="3.8"/><circle cx="381.7" cy="389.5" r="3.8"/><circle cx="429.9" cy="381.9" r="3.8"/><circle cx="485.6" cy="344.0" r="3.8"/><circle cx="586.5" cy="275.6" r="3.8"/>
<circle cx="374.9" cy="376.1" r="3.8"/><circle cx="399.7" cy="377.3" r="3.8"/><circle cx="374.9" cy="368.8" r="3.8"/><circle cx="324.9" cy="383.3" r="3.8"/><circle cx="499.1" cy="276.5" r="3.8"/><circle cx="452.8" cy="307.4" r="3.8"/>
<circle cx="431.9" cy="341.3" r="3.8"/><circle cx="593.6" cy="236.4" r="3.8"/><circle cx="499.1" cy="304.5" r="3.8"/><circle cx="444.6" cy="322.8" r="3.8"/><circle cx="501.0" cy="278.0" r="3.8"/><circle cx="350.9" cy="390.4" r="3.8"/>
<circle cx="341.3" cy="419.7" r="3.8"/><circle cx="318.7" cy="408.0" r="3.8"/><circle cx="561.4" cy="284.2" r="3.8"/><circle cx="637.2" cy="248.3" r="3.8"/><circle cx="709.7" cy="214.2" r="3.8"/><circle cx="394.1" cy="391.2" r="3.8"/>
<circle cx="297.4" cy="379.6" r="3.8"/><circle cx="388.1" cy="391.2" r="3.8"/><circle cx="549.7" cy="255.8" r="3.8"/><circle cx="504.7" cy="277.5" r="3.8"/><circle cx="540.7" cy="298.0" r="3.8"/><circle cx="488.9" cy="287.3" r="3.8"/>
<circle cx="563.4" cy="272.4" r="3.8"/><circle cx="596.1" cy="242.9" r="3.8"/><circle cx="330.7" cy="346.3" r="3.8"/><circle cx="470.0" cy="304.8" r="3.8"/><circle cx="378.4" cy="385.5" r="3.8"/><circle cx="410.0" cy="355.7" r="3.8"/>
<circle cx="609.1" cy="256.4" r="3.8"/><circle cx="589.2" cy="244.6" r="3.8"/><circle cx="582.1" cy="273.5" r="3.8"/><circle cx="410.0" cy="330.8" r="3.8"/><circle cx="571.4" cy="269.9" r="3.8"/><circle cx="625.1" cy="246.3" r="3.8"/>
<circle cx="385.0" cy="357.5" r="3.8"/><circle cx="608.5" cy="240.7" r="3.8"/><circle cx="510.9" cy="285.4" r="3.8"/><circle cx="473.8" cy="337.5" r="3.8"/><circle cx="539.5" cy="263.3" r="3.8"/><circle cx="463.2" cy="305.1" r="3.8"/>
<circle cx="554.6" cy="239.8" r="3.8"/><circle cx="490.0" cy="336.6" r="3.8"/><circle cx="336.1" cy="391.7" r="3.8"/><circle cx="585.7" cy="256.7" r="3.8"/><circle cx="580.9" cy="265.4" r="3.8"/><circle cx="488.9" cy="308.3" r="3.8"/>
<circle cx="423.7" cy="354.6" r="3.8"/><circle cx="423.7" cy="322.5" r="3.8"/><circle cx="405.0" cy="384.8" r="3.8"/><circle cx="517.5" cy="293.8" r="3.8"/><circle cx="312.1" cy="405.4" r="3.8"/><circle cx="336.1" cy="369.8" r="3.8"/>
<circle cx="437.5" cy="340.9" r="3.8"/><circle cx="433.8" cy="333.1" r="3.8"/><circle cx="407.6" cy="340.3" r="3.8"/><circle cx="507.4" cy="278.6" r="3.8"/><circle cx="498.1" cy="286.0" r="3.8"/><circle cx="463.2" cy="331.1" r="3.8"/>
<circle cx="519.8" cy="298.8" r="3.8"/><circle cx="581.3" cy="256.2" r="3.8"/><circle cx="582.1" cy="266.2" r="3.8"/><circle cx="374.9" cy="350.7" r="3.8"/><circle cx="651.6" cy="203.3" r="3.8"/><circle cx="565.8" cy="286.9" r="3.8"/>
<circle cx="491.0" cy="284.2" r="3.8"/><circle cx="471.3" cy="278.3" r="3.8"/><circle cx="622.0" cy="229.6" r="3.8"/><circle cx="576.3" cy="283.6" r="3.8"/><circle cx="412.5" cy="311.3" r="3.8"/><circle cx="546.2" cy="286.7" r="3.8"/>
<circle cx="522.9" cy="293.5" r="3.8"/><circle cx="388.1" cy="363.7" r="3.8"/><circle cx="312.1" cy="391.7" r="3.8"/><circle cx="482.2" cy="296.7" r="3.8"/><circle cx="429.9" cy="329.0" r="3.8"/><circle cx="513.4" cy="310.1" r="3.8"/>
<circle cx="402.4" cy="380.2" r="3.8"/><circle cx="346.2" cy="377.3" r="3.8"/><circle cx="336.1" cy="388.7" r="3.8"/><circle cx="312.1" cy="354.3" r="3.8"/><circle cx="350.9" cy="397.9" r="3.8"/><circle cx="431.9" cy="294.0" r="3.8"/>
<circle cx="506.5" cy="314.0" r="3.8"/><circle cx="494.1" cy="295.0" r="3.8"/><circle cx="666.8" cy="219.3" r="3.8"/><circle cx="503.8" cy="274.6" r="3.8"/><circle cx="421.6" cy="384.4" r="3.8"/><circle cx="707.7" cy="190.2" r="3.8"/>
<circle cx="549.1" cy="278.3" r="3.8"/><circle cx="519.1" cy="309.9" r="3.8"/><circle cx="467.3" cy="339.9" r="3.8"/><circle cx="396.9" cy="336.7" r="3.8"/><circle cx="371.3" cy="363.3" r="3.8"/><circle cx="318.7" cy="412.2" r="3.8"/>
<circle cx="523.7" cy="262.5" r="3.8"/><circle cx="592.5" cy="247.0" r="3.8"/><circle cx="431.9" cy="309.4" r="3.8"/><circle cx="425.8" cy="352.5" r="3.8"/><circle cx="355.3" cy="369.3" r="3.8"/><circle cx="378.4" cy="383.7" r="3.8"/>
<circle cx="496.2" cy="261.5" r="3.8"/><circle cx="451.2" cy="341.0" r="3.8"/><circle cx="346.2" cy="410.0" r="3.8"/><circle cx="536.9" cy="259.4" r="3.8"/><circle cx="399.7" cy="325.5" r="3.8"/><circle cx="483.4" cy="281.2" r="3.8"/>
<circle cx="563.9" cy="265.0" r="3.8"/><circle cx="446.3" cy="366.2" r="3.8"/><circle cx="346.2" cy="380.2" r="3.8"/><circle cx="464.6" cy="295.1" r="3.8"/><circle cx="355.3" cy="376.1" r="3.8"/><circle cx="336.1" cy="361.4" r="3.8"/>
<circle cx="562.4" cy="253.4" r="3.8"/><circle cx="530.2" cy="280.5" r="3.8"/><circle cx="396.9" cy="371.9" r="3.8"/><circle cx="391.1" cy="346.7" r="3.8"/><circle cx="531.5" cy="297.7" r="3.8"/><circle cx="405.0" cy="350.4" r="3.8"/>
<circle cx="336.1" cy="401.8" r="3.8"/><circle cx="378.4" cy="345.6" r="3.8"/><circle cx="569.6" cy="281.7" r="3.8"/><circle cx="536.2" cy="297.8" r="3.8"/><circle cx="399.7" cy="377.0" r="3.8"/><circle cx="505.6" cy="315.9" r="3.8"/>
<circle cx="350.9" cy="351.7" r="3.8"/><circle cx="662.9" cy="198.8" r="3.8"/><circle cx="505.6" cy="287.0" r="3.8"/><circle cx="448.0" cy="329.3" r="3.8"/><circle cx="490.0" cy="274.3" r="3.8"/><circle cx="458.9" cy="326.4" r="3.8"/>
<circle cx="388.1" cy="389.5" r="3.8"/><circle cx="516.7" cy="323.2" r="3.8"/><circle cx="412.5" cy="371.4" r="3.8"/><circle cx="305.0" cy="397.9" r="3.8"/><circle cx="531.5" cy="299.5" r="3.8"/><circle cx="527.3" cy="295.0" r="3.8"/>
<circle cx="355.3" cy="389.5" r="3.8"/><circle cx="407.6" cy="359.8" r="3.8"/><circle cx="515.9" cy="280.2" r="3.8"/><circle cx="359.6" cy="397.9" r="3.8"/><circle cx="394.1" cy="337.5" r="3.8"/><circle cx="461.8" cy="325.9" r="3.8"/>
<circle cx="350.9" cy="364.6" r="3.8"/><circle cx="610.0" cy="247.6" r="3.8"/><circle cx="367.5" cy="406.0" r="3.8"/><circle cx="346.2" cy="417.0" r="3.8"/><circle cx="525.1" cy="262.5" r="3.8"/><circle cx="560.4" cy="295.2" r="3.8"/>
<circle cx="346.2" cy="374.4" r="3.8"/><circle cx="504.7" cy="308.9" r="3.8"/><circle cx="554.1" cy="268.3" r="3.8"/><circle cx="425.8" cy="355.0" r="3.8"/><circle cx="530.2" cy="269.8" r="3.8"/><circle cx="608.5" cy="231.8" r="3.8"/>
<circle cx="429.9" cy="362.0" r="3.8"/><circle cx="620.4" cy="260.1" r="3.8"/><circle cx="305.0" cy="422.5" r="3.8"/><circle cx="525.9" cy="293.1" r="3.8"/><circle cx="543.2" cy="271.2" r="3.8"/><circle cx="396.9" cy="381.2" r="3.8"/>
<circle cx="670.1" cy="190.9" r="3.8"/><circle cx="452.8" cy="344.0" r="3.8"/><circle cx="312.1" cy="425.5" r="3.8"/><circle cx="367.5" cy="349.9" r="3.8"/><circle cx="525.9" cy="304.3" r="3.8"/><circle cx="541.3" cy="321.1" r="3.8"/>
<circle cx="503.8" cy="289.2" r="3.8"/><circle cx="394.1" cy="344.8" r="3.8"/><circle cx="318.7" cy="414.6" r="3.8"/><circle cx="318.7" cy="376.7" r="3.8"/><circle cx="405.0" cy="329.1" r="3.8"/><circle cx="414.8" cy="354.3" r="3.8"/>
<circle cx="490.0" cy="326.4" r="3.8"/><circle cx="448.0" cy="343.2" r="3.8"/><circle cx="324.9" cy="390.4" r="3.8"/><circle cx="642.1" cy="222.2" r="3.8"/><circle cx="555.7" cy="279.8" r="3.8"/><circle cx="442.9" cy="314.6" r="3.8"/>
<circle cx="444.6" cy="361.2" r="3.8"/><circle cx="479.9" cy="302.6" r="3.8"/><circle cx="499.1" cy="263.7" r="3.8"/><circle cx="341.3" cy="406.6" r="3.8"/><circle cx="399.7" cy="386.7" r="3.8"/><circle cx="297.4" cy="378.9" r="3.8"/>
<circle cx="371.3" cy="369.1" r="3.8"/><circle cx="555.7" cy="254.0" r="3.8"/><circle cx="468.6" cy="319.9" r="3.8"/><circle cx="483.4" cy="276.6" r="3.8"/><circle cx="663.0" cy="235.6" r="3.8"/><circle cx="367.5" cy="397.9" r="3.8"/>
<circle cx="297.4" cy="381.9" r="3.8"/><circle cx="481.1" cy="337.8" r="3.8"/><circle cx="471.3" cy="299.4" r="3.8"/><circle cx="471.3" cy="294.5" r="3.8"/><circle cx="388.1" cy="394.0" r="3.8"/><circle cx="367.5" cy="384.8" r="3.8"/>
<circle cx="289.0" cy="405.4" r="3.8"/><circle cx="444.6" cy="335.4" r="3.8"/><circle cx="391.1" cy="371.6" r="3.8"/><circle cx="441.1" cy="363.5" r="3.8"/><circle cx="405.0" cy="329.8" r="3.8"/><circle cx="609.7" cy="231.7" r="3.8"/>
<circle cx="371.3" cy="369.3" r="3.8"/><circle cx="538.8" cy="287.0" r="3.8"/><circle cx="407.6" cy="328.4" r="3.8"/><circle cx="475.1" cy="295.8" r="3.8"/><circle cx="336.1" cy="417.9" r="3.8"/><circle cx="330.7" cy="401.8" r="3.8"/>
<circle cx="385.0" cy="362.0" r="3.8"/><circle cx="535.6" cy="253.3" r="3.8"/><circle cx="417.1" cy="342.7" r="3.8"/><circle cx="381.7" cy="325.4" r="3.8"/><circle cx="479.9" cy="342.8" r="3.8"/><circle cx="615.6" cy="248.7" r="3.8"/>
<circle cx="385.0" cy="344.3" r="3.8"/><circle cx="318.7" cy="384.4" r="3.8"/><circle cx="539.5" cy="257.1" r="3.8"/><circle cx="498.1" cy="272.3" r="3.8"/><circle cx="487.8" cy="296.6" r="3.8"/><circle cx="433.8" cy="356.0" r="3.8"/>
<circle cx="402.4" cy="321.8" r="3.8"/><circle cx="581.3" cy="240.2" r="3.8"/><circle cx="359.6" cy="372.7" r="3.8"/><circle cx="547.9" cy="298.6" r="3.8"/><circle cx="487.8" cy="337.4" r="3.8"/><circle cx="528.7" cy="250.5" r="3.8"/>
<circle cx="563.9" cy="268.8" r="3.8"/><circle cx="528.0" cy="301.2" r="3.8"/><circle cx="359.6" cy="352.1" r="3.8"/><circle cx="421.6" cy="341.5" r="3.8"/><circle cx="532.9" cy="311.5" r="3.8"/><circle cx="441.1" cy="352.0" r="3.8"/>
<circle cx="355.3" cy="377.0" r="3.8"/><circle cx="714.9" cy="199.7" r="3.8"/><circle cx="452.8" cy="322.3" r="3.8"/><circle cx="394.1" cy="332.2" r="3.8"/><circle cx="594.7" cy="245.6" r="3.8"/><circle cx="355.3" cy="349.9" r="3.8"/>
<circle cx="385.0" cy="367.3" r="3.8"/><circle cx="500.1" cy="298.3" r="3.8"/><circle cx="515.9" cy="275.3" r="3.8"/><circle cx="350.9" cy="384.8" r="3.8"/><circle cx="483.4" cy="322.5" r="3.8"/><circle cx="571.4" cy="271.8" r="3.8"/>
<circle cx="560.4" cy="269.8" r="3.8"/><circle cx="517.5" cy="297.8" r="3.8"/><circle cx="580.1" cy="295.6" r="3.8"/><circle cx="448.0" cy="315.9" r="3.8"/><circle cx="435.7" cy="358.2" r="3.8"/><circle cx="467.3" cy="313.1" r="3.8"/>
<circle cx="551.3" cy="247.0" r="3.8"/><circle cx="580.9" cy="266.8" r="3.8"/><circle cx="510.9" cy="336.2" r="3.8"/><circle cx="381.7" cy="387.1" r="3.8"/><circle cx="427.9" cy="375.2" r="3.8"/><circle cx="410.0" cy="342.1" r="3.8"/>
<circle cx="367.5" cy="387.9" r="3.8"/><circle cx="423.7" cy="315.4" r="3.8"/><circle cx="391.1" cy="388.3" r="3.8"/><circle cx="414.8" cy="368.6" r="3.8"/><circle cx="529.4" cy="256.0" r="3.8"/><circle cx="324.9" cy="376.4" r="3.8"/>
<circle cx="355.3" cy="407.3" r="3.8"/><circle cx="419.4" cy="330.5" r="3.8"/><circle cx="578.4" cy="232.1" r="3.8"/><circle cx="407.6" cy="378.9" r="3.8"/><circle cx="542.6" cy="295.4" r="3.8"/><circle cx="289.0" cy="435.1" r="3.8"/>
<circle cx="446.3" cy="327.8" r="3.8"/><circle cx="305.0" cy="402.9" r="3.8"/><circle cx="558.3" cy="258.7" r="3.8"/><circle cx="477.5" cy="319.3" r="3.8"/><circle cx="330.7" cy="348.6" r="3.8"/><circle cx="466.0" cy="350.4" r="3.8"/>
<circle cx="402.4" cy="347.4" r="3.8"/><circle cx="318.7" cy="395.9" r="3.8"/><circle cx="502.9" cy="288.1" r="3.8"/><circle cx="582.1" cy="241.4" r="3.8"/><circle cx="425.8" cy="309.6" r="3.8"/><circle cx="461.8" cy="338.7" r="3.8"/>
<circle cx="471.3" cy="314.0" r="3.8"/><circle cx="391.1" cy="346.0" r="3.8"/><circle cx="552.5" cy="263.0" r="3.8"/><circle cx="645.7" cy="222.7" r="3.8"/><circle cx="441.1" cy="359.8" r="3.8"/><circle cx="425.8" cy="323.5" r="3.8"/>
<circle cx="554.1" cy="242.2" r="3.8"/><circle cx="530.2" cy="313.9" r="3.8"/><circle cx="466.0" cy="353.3" r="3.8"/><circle cx="439.4" cy="309.6" r="3.8"/><circle cx="510.9" cy="320.2" r="3.8"/><circle cx="423.7" cy="356.2" r="3.8"/>
<circle cx="454.4" cy="328.2" r="3.8"/><circle cx="388.1" cy="351.7" r="3.8"/><circle cx="495.2" cy="325.2" r="3.8"/><circle cx="421.6" cy="306.5" r="3.8"/><circle cx="437.5" cy="370.1" r="3.8"/><circle cx="318.7" cy="384.8" r="3.8"/>
<circle cx="385.0" cy="373.8" r="3.8"/><circle cx="695.7" cy="186.8" r="3.8"/><circle cx="394.1" cy="356.4" r="3.8"/><circle cx="491.0" cy="291.2" r="3.8"/><circle cx="690.6" cy="192.5" r="3.8"/><circle cx="346.2" cy="420.6" r="3.8"/>
<circle cx="402.4" cy="356.6" r="3.8"/><circle cx="498.1" cy="301.8" r="3.8"/><circle cx="318.7" cy="365.3" r="3.8"/><circle cx="318.7" cy="422.5" r="3.8"/><circle cx="363.6" cy="378.0" r="3.8"/><circle cx="519.1" cy="291.2" r="3.8"/>
<circle cx="367.5" cy="333.3" r="3.8"/><circle cx="598.5" cy="279.0" r="3.8"/><circle cx="396.9" cy="343.9" r="3.8"/><circle cx="330.7" cy="366.4" r="3.8"/><circle cx="653.3" cy="204.0" r="3.8"/><circle cx="452.8" cy="327.2" r="3.8"/>
<circle cx="472.6" cy="318.0" r="3.8"/><circle cx="509.2" cy="286.5" r="3.8"/><circle cx="478.7" cy="301.1" r="3.8"/><circle cx="350.9" cy="355.2" r="3.8"/><circle cx="378.4" cy="344.0" r="3.8"/><circle cx="396.9" cy="359.8" r="3.8"/>
<circle cx="414.8" cy="325.5" r="3.8"/><circle cx="671.2" cy="226.9" r="3.8"/><circle cx="501.9" cy="295.2" r="3.8"/><circle cx="527.3" cy="278.6" r="3.8"/><circle cx="399.7" cy="330.0" r="3.8"/><circle cx="371.3" cy="348.4" r="3.8"/>
<circle cx="654.1" cy="227.0" r="3.8"/><circle cx="665.8" cy="188.1" r="3.8"/><circle cx="431.9" cy="360.6" r="3.8"/><circle cx="367.5" cy="380.9" r="3.8"/><circle cx="507.4" cy="310.6" r="3.8"/><circle cx="492.1" cy="314.1" r="3.8"/>
<circle cx="297.4" cy="407.3" r="3.8"/><circle cx="433.8" cy="349.2" r="3.8"/><circle cx="446.3" cy="340.6" r="3.8"/><circle cx="396.9" cy="346.0" r="3.8"/><circle cx="414.8" cy="356.2" r="3.8"/><circle cx="336.1" cy="369.1" r="3.8"/>
<circle cx="625.1" cy="220.4" r="3.8"/><circle cx="504.7" cy="298.7" r="3.8"/><circle cx="399.7" cy="350.7" r="3.8"/><circle cx="630.9" cy="261.6" r="3.8"/><circle cx="540.1" cy="269.4" r="3.8"/><circle cx="305.0" cy="400.1" r="3.8"/>
<circle cx="381.7" cy="334.5" r="3.8"/><circle cx="394.1" cy="375.5" r="3.8"/><circle cx="496.2" cy="300.1" r="3.8"/><circle cx="522.9" cy="316.7" r="3.8"/><circle cx="388.1" cy="312.1" r="3.8"/><circle cx="485.6" cy="287.2" r="3.8"/>
<circle cx="623.6" cy="236.1" r="3.8"/><circle cx="391.1" cy="378.0" r="3.8"/><circle cx="683.2" cy="176.3" r="3.8"/><circle cx="566.3" cy="270.2" r="3.8"/><circle cx="522.1" cy="261.3" r="3.8"/><circle cx="346.2" cy="384.4" r="3.8"/>
<circle cx="565.8" cy="260.0" r="3.8"/><circle cx="553.6" cy="245.1" r="3.8"/><circle cx="601.5" cy="266.6" r="3.8"/><circle cx="522.1" cy="290.2" r="3.8"/><circle cx="385.0" cy="376.1" r="3.8"/><circle cx="461.8" cy="349.9" r="3.8"/>
<circle cx="583.7" cy="231.6" r="3.8"/><circle cx="578.4" cy="274.5" r="3.8"/><circle cx="557.8" cy="293.8" r="3.8"/><circle cx="512.6" cy="314.6" r="3.8"/><circle cx="476.3" cy="295.7" r="3.8"/><circle cx="486.7" cy="340.0" r="3.8"/>
<circle cx="514.2" cy="285.9" r="3.8"/><circle cx="410.0" cy="367.1" r="3.8"/><circle cx="449.6" cy="324.3" r="3.8"/><circle cx="350.9" cy="351.3" r="3.8"/><circle cx="496.2" cy="307.9" r="3.8"/><circle cx="433.8" cy="345.1" r="3.8"/>
<circle cx="388.1" cy="387.1" r="3.8"/><circle cx="528.0" cy="267.0" r="3.8"/><circle cx="562.4" cy="268.7" r="3.8"/><circle cx="591.0" cy="228.9" r="3.8"/><circle cx="381.7" cy="366.6" r="3.8"/><circle cx="318.7" cy="402.9" r="3.8"/>
<circle cx="374.9" cy="357.3" r="3.8"/><circle cx="505.6" cy="329.7" r="3.8"/><circle cx="305.0" cy="393.0" r="3.8"/><circle cx="305.0" cy="402.3" r="3.8"/><circle cx="371.3" cy="393.5" r="3.8"/><circle cx="500.1" cy="328.9" r="3.8"/>
<circle cx="441.1" cy="323.9" r="3.8"/><circle cx="363.6" cy="417.9" r="3.8"/><circle cx="478.7" cy="321.3" r="3.8"/><circle cx="488.9" cy="298.9" r="3.8"/><circle cx="466.0" cy="310.0" r="3.8"/><circle cx="378.4" cy="410.0" r="3.8"/>
<circle cx="587.7" cy="246.7" r="3.8"/><circle cx="297.4" cy="440.9" r="3.8"/><circle cx="297.4" cy="367.3" r="3.8"/><circle cx="639.3" cy="247.4" r="3.8"/><circle cx="619.3" cy="220.1" r="3.8"/><circle cx="346.2" cy="427.7" r="3.8"/>
<circle cx="498.1" cy="316.9" r="3.8"/><circle cx="381.7" cy="348.4" r="3.8"/><circle cx="464.6" cy="334.5" r="3.8"/><circle cx="437.5" cy="327.3" r="3.8"/><circle cx="538.8" cy="270.5" r="3.8"/><circle cx="346.2" cy="406.0" r="3.8"/>
<circle cx="472.6" cy="333.4" r="3.8"/><circle cx="587.3" cy="253.6" r="3.8"/><circle cx="562.4" cy="242.0" r="3.8"/><circle cx="346.2" cy="375.2" r="3.8"/><circle cx="501.9" cy="323.9" r="3.8"/><circle cx="407.6" cy="312.4" r="3.8"/>
<circle cx="444.6" cy="364.8" r="3.8"/><circle cx="381.7" cy="372.4" r="3.8"/><circle cx="666.1" cy="195.3" r="3.8"/><circle cx="427.9" cy="364.4" r="3.8"/><circle cx="631.6" cy="211.7" r="3.8"/><circle cx="526.6" cy="303.0" r="3.8"/>
<circle cx="341.3" cy="405.4" r="3.8"/><circle cx="312.1" cy="419.7" r="3.8"/><circle cx="312.1" cy="426.6" r="3.8"/><circle cx="460.3" cy="314.8" r="3.8"/><circle cx="423.7" cy="342.1" r="3.8"/><circle cx="510.9" cy="289.9" r="3.8"/>
<circle cx="346.2" cy="391.2" r="3.8"/><circle cx="519.1" cy="284.1" r="3.8"/><circle cx="455.9" cy="342.2" r="3.8"/><circle cx="554.1" cy="262.1" r="3.8"/><circle cx="574.1" cy="274.0" r="3.8"/><circle cx="394.1" cy="336.8" r="3.8"/>
<circle cx="407.6" cy="376.4" r="3.8"/><circle cx="503.8" cy="292.1" r="3.8"/><circle cx="350.9" cy="383.3" r="3.8"/><circle cx="341.3" cy="361.6" r="3.8"/><circle cx="421.6" cy="319.3" r="3.8"/><circle cx="330.7" cy="397.4" r="3.8"/>
<circle cx="633.8" cy="225.7" r="3.8"/><circle cx="346.2" cy="388.3" r="3.8"/><circle cx="350.9" cy="418.8" r="3.8"/><circle cx="530.2" cy="295.6" r="3.8"/><circle cx="417.1" cy="303.8" r="3.8"/><circle cx="346.2" cy="402.3" r="3.8"/>
<circle cx="391.1" cy="399.5" r="3.8"/><circle cx="378.4" cy="361.0" r="3.8"/><circle cx="385.0" cy="326.5" r="3.8"/><circle cx="399.7" cy="365.7" r="3.8"/><circle cx="330.7" cy="414.6" r="3.8"/><circle cx="391.1" cy="361.0" r="3.8"/>
<circle cx="477.5" cy="291.5" r="3.8"/><circle cx="410.0" cy="341.6" r="3.8"/><circle cx="512.6" cy="318.3" r="3.8"/><circle cx="359.6" cy="359.4" r="3.8"/><circle cx="559.9" cy="281.6" r="3.8"/><circle cx="289.0" cy="386.3" r="3.8"/>
<circle cx="487.8" cy="333.3" r="3.8"/><circle cx="305.0" cy="399.0" r="3.8"/><circle cx="546.2" cy="290.2" r="3.8"/><circle cx="481.1" cy="283.2" r="3.8"/><circle cx="355.3" cy="391.2" r="3.8"/><circle cx="592.1" cy="234.0" r="3.8"/>
<circle cx="391.1" cy="369.1" r="3.8"/><circle cx="312.1" cy="436.4" r="3.8"/><circle cx="468.6" cy="312.9" r="3.8"/><circle cx="560.9" cy="278.0" r="3.8"/><circle cx="399.7" cy="330.3" r="3.8"/><circle cx="431.9" cy="344.0" r="3.8"/>
<circle cx="552.5" cy="268.4" r="3.8"/><circle cx="479.9" cy="325.2" r="3.8"/><circle cx="558.3" cy="252.4" r="3.8"/><circle cx="498.1" cy="291.9" r="3.8"/><circle cx="506.5" cy="288.5" r="3.8"/><circle cx="518.3" cy="292.1" r="3.8"/>
<circle cx="312.1" cy="404.1" r="3.8"/><circle cx="367.5" cy="392.1" r="3.8"/><circle cx="371.3" cy="402.9" r="3.8"/><circle cx="355.3" cy="349.2" r="3.8"/><circle cx="312.1" cy="409.3" r="3.8"/><circle cx="472.6" cy="331.4" r="3.8"/>
<circle cx="468.6" cy="302.5" r="3.8"/><circle cx="507.4" cy="286.4" r="3.8"/><circle cx="414.8" cy="341.3" r="3.8"/><circle cx="381.7" cy="381.2" r="3.8"/><circle cx="423.7" cy="310.4" r="3.8"/><circle cx="305.0" cy="411.5" r="3.8"/>
<circle cx="297.4" cy="437.8" r="3.8"/><circle cx="544.4" cy="291.8" r="3.8"/><circle cx="381.7" cy="348.6" r="3.8"/><circle cx="620.9" cy="225.1" r="3.8"/><circle cx="367.5" cy="376.1" r="3.8"/><circle cx="547.9" cy="271.2" r="3.8"/>
<circle cx="635.4" cy="234.9" r="3.8"/><circle cx="399.7" cy="385.1" r="3.8"/><circle cx="359.6" cy="336.2" r="3.8"/><circle cx="491.0" cy="331.8" r="3.8"/><circle cx="511.7" cy="312.8" r="3.8"/><circle cx="312.1" cy="366.9" r="3.8"/>
<circle cx="359.6" cy="355.9" r="3.8"/><circle cx="421.6" cy="326.3" r="3.8"/><circle cx="425.8" cy="348.2" r="3.8"/><circle cx="336.1" cy="394.0" r="3.8"/><circle cx="488.9" cy="283.4" r="3.8"/><circle cx="399.7" cy="374.4" r="3.8"/>
<circle cx="587.7" cy="248.1" r="3.8"/><circle cx="324.9" cy="420.6" r="3.8"/><circle cx="367.5" cy="358.2" r="3.8"/><circle cx="439.4" cy="316.6" r="3.8"/><circle cx="330.7" cy="416.2" r="3.8"/><circle cx="341.3" cy="352.1" r="3.8"/>
<circle cx="468.6" cy="280.6" r="3.8"/><circle cx="435.7" cy="320.1" r="3.8"/><circle cx="527.3" cy="263.9" r="3.8"/><circle cx="629.2" cy="200.7" r="3.8"/><circle cx="556.2" cy="251.0" r="3.8"/><circle cx="514.2" cy="303.7" r="3.8"/>
<circle cx="581.3" cy="223.0" r="3.8"/><circle cx="405.0" cy="323.0" r="3.8"/><circle cx="523.7" cy="307.2" r="3.8"/><circle cx="454.4" cy="293.6" r="3.8"/><circle cx="350.9" cy="360.4" r="3.8"/><circle cx="569.6" cy="267.6" r="3.8"/>
<circle cx="606.3" cy="224.1" r="3.8"/><circle cx="391.1" cy="366.4" r="3.8"/><circle cx="522.1" cy="275.1" r="3.8"/><circle cx="705.4" cy="193.0" r="3.8"/><circle cx="410.0" cy="346.7" r="3.8"/><circle cx="641.9" cy="211.9" r="3.8"/>
<circle cx="555.2" cy="269.9" r="3.8"/><circle cx="466.0" cy="337.2" r="3.8"/><circle cx="371.3" cy="387.9" r="3.8"/><circle cx="513.4" cy="264.9" r="3.8"/><circle cx="312.1" cy="393.5" r="3.8"/><circle cx="643.0" cy="225.4" r="3.8"/>
<circle cx="378.4" cy="401.8" r="3.8"/><circle cx="483.4" cy="297.4" r="3.8"/><circle cx="425.8" cy="364.1" r="3.8"/><circle cx="451.2" cy="322.5" r="3.8"/><circle cx="355.3" cy="394.9" r="3.8"/><circle cx="318.7" cy="369.3" r="3.8"/>
<circle cx="437.5" cy="333.7" r="3.8"/><circle cx="367.5" cy="404.7" r="3.8"/><circle cx="507.4" cy="323.8" r="3.8"/><circle cx="511.7" cy="260.1" r="3.8"/><circle cx="455.9" cy="318.1" r="3.8"/><circle cx="613.6" cy="224.4" r="3.8"/>
<circle cx="620.6" cy="256.9" r="3.8"/><circle cx="583.7" cy="265.7" r="3.8"/><circle cx="399.7" cy="346.7" r="3.8"/><circle cx="318.7" cy="398.4" r="3.8"/><circle cx="374.9" cy="388.3" r="3.8"/><circle cx="514.2" cy="287.2" r="3.8"/>
<circle cx="350.9" cy="402.9" r="3.8"/><circle cx="446.3" cy="308.1" r="3.8"/><circle cx="461.8" cy="304.3" r="3.8"/><circle cx="528.7" cy="279.8" r="3.8"/><circle cx="417.1" cy="356.4" r="3.8"/><circle cx="460.3" cy="308.0" r="3.8"/>
<circle cx="510.0" cy="286.2" r="3.8"/><circle cx="559.4" cy="269.0" r="3.8"/><circle cx="312.1" cy="431.2" r="3.8"/><circle cx="312.1" cy="402.3" r="3.8"/><circle cx="592.5" cy="241.8" r="3.8"/><circle cx="472.6" cy="307.0" r="3.8"/>
<circle cx="402.4" cy="366.4" r="3.8"/><circle cx="486.7" cy="312.3" r="3.8"/><circle cx="566.8" cy="260.3" r="3.8"/><circle cx="457.4" cy="355.9" r="3.8"/><circle cx="427.9" cy="321.1" r="3.8"/><circle cx="481.1" cy="275.5" r="3.8"/>
<circle cx="312.1" cy="369.6" r="3.8"/><circle cx="451.2" cy="328.2" r="3.8"/><circle cx="491.0" cy="306.8" r="3.8"/><circle cx="330.7" cy="422.5" r="3.8"/><circle cx="336.1" cy="348.9" r="3.8"/><circle cx="421.6" cy="366.9" r="3.8"/>
<circle cx="312.1" cy="416.2" r="3.8"/><circle cx="446.3" cy="333.2" r="3.8"/><circle cx="410.0" cy="349.2" r="3.8"/><circle cx="425.8" cy="371.1" r="3.8"/><circle cx="463.2" cy="320.5" r="3.8"/><circle cx="346.2" cy="360.4" r="3.8"/>
<circle cx="515.9" cy="321.0" r="3.8"/><circle cx="491.0" cy="280.0" r="3.8"/><circle cx="535.6" cy="256.1" r="3.8"/><circle cx="336.1" cy="397.9" r="3.8"/><circle cx="466.0" cy="325.1" r="3.8"/><circle cx="367.5" cy="380.5" r="3.8"/>
<circle cx="670.1" cy="196.3" r="3.8"/><circle cx="381.7" cy="364.8" r="3.8"/><circle cx="519.1" cy="311.0" r="3.8"/><circle cx="527.3" cy="300.8" r="3.8"/><circle cx="425.8" cy="323.6" r="3.8"/><circle cx="412.5" cy="343.9" r="3.8"/>
<circle cx="394.1" cy="341.5" r="3.8"/><circle cx="289.0" cy="404.7" r="3.8"/><circle cx="449.6" cy="314.3" r="3.8"/><circle cx="378.4" cy="378.9" r="3.8"/><circle cx="433.8" cy="349.8" r="3.8"/><circle cx="425.8" cy="334.9" r="3.8"/>
<circle cx="394.1" cy="352.6" r="3.8"/><circle cx="305.0" cy="411.5" r="3.8"/><circle cx="385.0" cy="323.9" r="3.8"/><circle cx="442.9" cy="293.6" r="3.8"/><circle cx="556.8" cy="288.3" r="3.8"/><circle cx="297.4" cy="404.1" r="3.8"/>
<circle cx="346.2" cy="378.9" r="3.8"/><circle cx="653.3" cy="233.8" r="3.8"/><circle cx="394.1" cy="341.8" r="3.8"/><circle cx="429.9" cy="336.9" r="3.8"/><circle cx="501.9" cy="331.6" r="3.8"/><circle cx="659.8" cy="232.1" r="3.8"/>
<circle cx="346.2" cy="385.1" r="3.8"/><circle cx="425.8" cy="333.3" r="3.8"/><circle cx="540.1" cy="294.4" r="3.8"/><circle cx="500.1" cy="313.2" r="3.8"/><circle cx="510.9" cy="267.2" r="3.8"/><circle cx="449.6" cy="358.4" r="3.8"/>
<circle cx="597.1" cy="255.5" r="3.8"/><circle cx="545.6" cy="258.0" r="3.8"/><circle cx="472.6" cy="287.9" r="3.8"/><circle cx="431.9" cy="319.8" r="3.8"/><circle cx="423.7" cy="364.6" r="3.8"/><circle cx="405.0" cy="364.4" r="3.8"/>
<circle cx="493.1" cy="316.2" r="3.8"/><circle cx="558.3" cy="262.0" r="3.8"/><circle cx="590.3" cy="227.3" r="3.8"/><circle cx="396.9" cy="389.5" r="3.8"/><circle cx="505.6" cy="272.5" r="3.8"/><circle cx="463.2" cy="301.0" r="3.8"/>
<circle cx="442.9" cy="321.4" r="3.8"/><circle cx="330.7" cy="356.4" r="3.8"/><circle cx="455.9" cy="319.8" r="3.8"/><circle cx="425.8" cy="305.5" r="3.8"/><circle cx="639.5" cy="210.8" r="3.8"/><circle cx="632.6" cy="252.0" r="3.8"/>
<circle cx="455.9" cy="325.1" r="3.8"/><circle cx="394.1" cy="391.7" r="3.8"/><circle cx="454.4" cy="353.0" r="3.8"/><circle cx="479.9" cy="305.9" r="3.8"/><circle cx="607.3" cy="248.4" r="3.8"/><circle cx="479.9" cy="309.0" r="3.8"/>
<circle cx="682.9" cy="205.4" r="3.8"/><circle cx="433.8" cy="306.1" r="3.8"/><circle cx="394.1" cy="366.2" r="3.8"/><circle cx="471.3" cy="330.1" r="3.8"/><circle cx="484.5" cy="323.5" r="3.8"/><circle cx="425.8" cy="363.5" r="3.8"/>
<circle cx="510.9" cy="332.1" r="3.8"/><circle cx="439.4" cy="309.2" r="3.8"/><circle cx="297.4" cy="388.3" r="3.8"/><circle cx="367.5" cy="352.0" r="3.8"/><circle cx="481.1" cy="320.0" r="3.8"/><circle cx="471.3" cy="304.1" r="3.8"/>
<circle cx="578.8" cy="246.0" r="3.8"/><circle cx="346.2" cy="402.9" r="3.8"/><circle cx="297.4" cy="369.1" r="3.8"/><circle cx="336.1" cy="343.5" r="3.8"/><circle cx="670.5" cy="236.0" r="3.8"/><circle cx="581.7" cy="282.9" r="3.8"/>
<circle cx="510.0" cy="314.0" r="3.8"/><circle cx="461.8" cy="343.6" r="3.8"/><circle cx="496.2" cy="291.0" r="3.8"/><circle cx="433.8" cy="328.3" r="3.8"/><circle cx="461.8" cy="297.8" r="3.8"/><circle cx="506.5" cy="301.7" r="3.8"/>
<circle cx="433.8" cy="353.3" r="3.8"/><circle cx="613.9" cy="219.9" r="3.8"/><circle cx="506.5" cy="318.6" r="3.8"/><circle cx="593.2" cy="267.8" r="3.8"/><circle cx="610.7" cy="236.0" r="3.8"/><circle cx="414.8" cy="352.3" r="3.8"/>
<circle cx="330.7" cy="368.8" r="3.8"/><circle cx="421.6" cy="387.5" r="3.8"/><circle cx="662.0" cy="214.9" r="3.8"/><circle cx="485.6" cy="314.8" r="3.8"/><circle cx="421.6" cy="359.0" r="3.8"/><circle cx="402.4" cy="324.1" r="3.8"/>
<circle cx="381.7" cy="389.1" r="3.8"/><circle cx="471.3" cy="328.7" r="3.8"/><circle cx="547.3" cy="250.0" r="3.8"/><circle cx="598.1" cy="223.7" r="3.8"/><circle cx="539.5" cy="288.4" r="3.8"/><circle cx="460.3" cy="345.6" r="3.8"/>
<circle cx="412.5" cy="322.8" r="3.8"/><circle cx="435.7" cy="335.0" r="3.8"/><circle cx="427.9" cy="358.1" r="3.8"/><circle cx="486.7" cy="329.6" r="3.8"/><circle cx="543.8" cy="263.7" r="3.8"/><circle cx="410.0" cy="325.3" r="3.8"/>
<circle cx="355.3" cy="385.5" r="3.8"/><circle cx="582.5" cy="277.2" r="3.8"/><circle cx="500.1" cy="280.6" r="3.8"/><circle cx="425.8" cy="336.8" r="3.8"/><circle cx="481.1" cy="315.3" r="3.8"/><circle cx="481.1" cy="304.2" r="3.8"/>
<circle cx="505.6" cy="319.8" r="3.8"/><circle cx="336.1" cy="357.9" r="3.8"/><circle cx="391.1" cy="349.5" r="3.8"/><circle cx="473.8" cy="289.5" r="3.8"/><circle cx="367.5" cy="349.0" r="3.8"/><circle cx="385.0" cy="361.4" r="3.8"/>
<circle cx="461.8" cy="311.1" r="3.8"/><circle cx="391.1" cy="347.3" r="3.8"/><circle cx="367.5" cy="404.7" r="3.8"/><circle cx="567.3" cy="269.7" r="3.8"/><circle cx="312.1" cy="413.8" r="3.8"/><circle cx="463.2" cy="305.8" r="3.8"/>
<circle cx="378.4" cy="339.0" r="3.8"/><circle cx="498.1" cy="313.6" r="3.8"/><circle cx="533.6" cy="298.9" r="3.8"/><circle cx="297.4" cy="437.8" r="3.8"/><circle cx="359.6" cy="376.4" r="3.8"/><circle cx="486.7" cy="302.1" r="3.8"/>
<circle cx="378.4" cy="362.2" r="3.8"/><circle cx="458.9" cy="322.6" r="3.8"/><circle cx="460.3" cy="312.5" r="3.8"/><circle cx="671.3" cy="232.6" r="3.8"/><circle cx="555.7" cy="257.1" r="3.8"/><circle cx="697.0" cy="171.2" r="3.8"/>
<circle cx="534.9" cy="274.7" r="3.8"/><circle cx="423.7" cy="304.7" r="3.8"/><circle cx="448.0" cy="322.0" r="3.8"/><circle cx="478.7" cy="286.6" r="3.8"/><circle cx="528.7" cy="286.8" r="3.8"/><circle cx="455.9" cy="315.9" r="3.8"/>
<circle cx="685.4" cy="194.1" r="3.8"/><circle cx="500.1" cy="332.2" r="3.8"/><circle cx="399.7" cy="346.3" r="3.8"/><circle cx="305.0" cy="400.1" r="3.8"/><circle cx="690.1" cy="198.8" r="3.8"/><circle cx="470.0" cy="351.8" r="3.8"/>
<circle cx="511.7" cy="295.9" r="3.8"/><circle cx="457.4" cy="323.6" r="3.8"/><circle cx="541.3" cy="284.6" r="3.8"/><circle cx="512.6" cy="278.7" r="3.8"/><circle cx="554.6" cy="282.6" r="3.8"/><circle cx="385.0" cy="366.9" r="3.8"/>
<circle cx="391.1" cy="390.8" r="3.8"/><circle cx="587.3" cy="250.5" r="3.8"/><circle cx="545.0" cy="316.5" r="3.8"/><circle cx="525.9" cy="312.3" r="3.8"/><circle cx="574.1" cy="233.3" r="3.8"/><circle cx="421.6" cy="304.2" r="3.8"/>
<circle cx="433.8" cy="341.3" r="3.8"/><circle cx="653.5" cy="194.4" r="3.8"/><circle cx="350.9" cy="361.6" r="3.8"/><circle cx="312.1" cy="364.6" r="3.8"/><circle cx="535.6" cy="309.4" r="3.8"/><circle cx="289.0" cy="422.5" r="3.8"/>
<circle cx="374.9" cy="402.9" r="3.8"/><circle cx="478.7" cy="284.2" r="3.8"/><circle cx="457.4" cy="311.0" r="3.8"/><circle cx="402.4" cy="382.6" r="3.8"/><circle cx="341.3" cy="384.0" r="3.8"/><circle cx="461.8" cy="315.4" r="3.8"/>
<circle cx="336.1" cy="424.5" r="3.8"/><circle cx="555.2" cy="254.0" r="3.8"/><circle cx="442.9" cy="353.6" r="3.8"/><circle cx="536.2" cy="302.7" r="3.8"/><circle cx="378.4" cy="356.6" r="3.8"/><circle cx="350.9" cy="378.3" r="3.8"/>
<circle cx="437.5" cy="367.1" r="3.8"/><circle cx="463.2" cy="347.4" r="3.8"/><circle cx="607.0" cy="250.8" r="3.8"/><circle cx="419.4" cy="339.2" r="3.8"/><circle cx="399.7" cy="320.1" r="3.8"/><circle cx="318.7" cy="390.8" r="3.8"/>
<circle cx="346.2" cy="374.4" r="3.8"/><circle cx="363.6" cy="394.4" r="3.8"/><circle cx="318.7" cy="360.2" r="3.8"/><circle cx="435.7" cy="303.0" r="3.8"/><circle cx="550.8" cy="249.5" r="3.8"/><circle cx="312.1" cy="439.3" r="3.8"/>
<circle cx="540.1" cy="256.5" r="3.8"/><circle cx="589.5" cy="249.4" r="3.8"/><circle cx="414.8" cy="341.3" r="3.8"/><circle cx="556.8" cy="250.6" r="3.8"/><circle cx="350.9" cy="390.4" r="3.8"/><circle cx="592.1" cy="273.9" r="3.8"/>
<circle cx="501.9" cy="286.9" r="3.8"/><circle cx="501.0" cy="272.9" r="3.8"/><circle cx="305.0" cy="431.2" r="3.8"/><circle cx="341.3" cy="405.4" r="3.8"/><circle cx="399.7" cy="334.8" r="3.8"/><circle cx="530.8" cy="309.5" r="3.8"/>
<circle cx="425.8" cy="345.5" r="3.8"/><circle cx="423.7" cy="339.1" r="3.8"/><circle cx="588.0" cy="268.7" r="3.8"/><circle cx="336.1" cy="383.0" r="3.8"/><circle cx="452.8" cy="333.7" r="3.8"/><circle cx="568.2" cy="258.4" r="3.8"/>
<circle cx="463.2" cy="317.2" r="3.8"/><circle cx="367.5" cy="393.0" r="3.8"/><circle cx="494.1" cy="309.9" r="3.8"/><circle cx="336.1" cy="396.4" r="3.8"/><circle cx="615.1" cy="213.3" r="3.8"/><circle cx="556.8" cy="272.7" r="3.8"/>
<circle cx="405.0" cy="319.1" r="3.8"/><circle cx="522.1" cy="272.4" r="3.8"/><circle cx="551.9" cy="297.4" r="3.8"/><circle cx="636.6" cy="226.7" r="3.8"/><circle cx="551.9" cy="283.2" r="3.8"/><circle cx="504.7" cy="317.6" r="3.8"/>
<circle cx="388.1" cy="385.5" r="3.8"/><circle cx="527.3" cy="308.6" r="3.8"/><circle cx="425.8" cy="345.5" r="3.8"/><circle cx="371.3" cy="375.0" r="3.8"/><circle cx="643.0" cy="206.0" r="3.8"/><circle cx="532.2" cy="275.7" r="3.8"/>
<circle cx="423.7" cy="371.6" r="3.8"/><circle cx="547.3" cy="285.1" r="3.8"/><circle cx="470.0" cy="321.6" r="3.8"/><circle cx="312.1" cy="386.7" r="3.8"/><circle cx="427.9" cy="335.3" r="3.8"/><circle cx="533.6" cy="304.5" r="3.8"/>
<circle cx="423.7" cy="344.3" r="3.8"/><circle cx="653.9" cy="256.7" r="3.8"/><circle cx="617.9" cy="270.5" r="3.8"/><circle cx="318.7" cy="399.5" r="3.8"/><circle cx="297.4" cy="408.6" r="3.8"/><circle cx="312.1" cy="399.5" r="3.8"/>
<circle cx="473.8" cy="289.6" r="3.8"/><circle cx="378.4" cy="408.6" r="3.8"/><circle cx="530.2" cy="294.1" r="3.8"/><circle cx="305.0" cy="408.6" r="3.8"/><circle cx="514.2" cy="311.1" r="3.8"/><circle cx="454.4" cy="325.1" r="3.8"/>
<circle cx="457.4" cy="319.5" r="3.8"/><circle cx="289.0" cy="385.1" r="3.8"/><circle cx="461.8" cy="324.0" r="3.8"/><circle cx="596.8" cy="253.9" r="3.8"/><circle cx="559.9" cy="269.8" r="3.8"/><circle cx="535.6" cy="312.0" r="3.8"/>
<circle cx="594.7" cy="230.3" r="3.8"/><circle cx="355.3" cy="402.9" r="3.8"/><circle cx="467.3" cy="279.5" r="3.8"/><circle cx="341.3" cy="361.4" r="3.8"/><circle cx="486.7" cy="272.3" r="3.8"/><circle cx="511.7" cy="306.6" r="3.8"/>
<circle cx="427.9" cy="335.4" r="3.8"/><circle cx="519.8" cy="302.1" r="3.8"/><circle cx="433.8" cy="335.6" r="3.8"/><circle cx="446.3" cy="335.0" r="3.8"/><circle cx="631.6" cy="246.2" r="3.8"/><circle cx="350.9" cy="389.9" r="3.8"/>
<circle cx="346.2" cy="410.8" r="3.8"/><circle cx="446.3" cy="311.0" r="3.8"/><circle cx="467.3" cy="338.6" r="3.8"/><circle cx="564.9" cy="279.4" r="3.8"/><circle cx="378.4" cy="348.6" r="3.8"/><circle cx="446.3" cy="362.9" r="3.8"/>
<circle cx="318.7" cy="430.0" r="3.8"/><circle cx="498.1" cy="330.8" r="3.8"/><circle cx="539.5" cy="277.4" r="3.8"/><circle cx="305.0" cy="421.5" r="3.8"/><circle cx="442.9" cy="313.7" r="3.8"/><circle cx="477.5" cy="321.5" r="3.8"/>
<circle cx="571.9" cy="281.3" r="3.8"/><circle cx="336.1" cy="411.5" r="3.8"/><circle cx="588.4" cy="264.4" r="3.8"/><circle cx="548.5" cy="286.2" r="3.8"/><circle cx="330.7" cy="375.5" r="3.8"/><circle cx="355.3" cy="390.8" r="3.8"/>
<circle cx="501.9" cy="305.7" r="3.8"/><circle cx="547.9" cy="267.5" r="3.8"/><circle cx="509.2" cy="295.5" r="3.8"/><circle cx="405.0" cy="343.9" r="3.8"/><circle cx="318.7" cy="394.9" r="3.8"/><circle cx="336.1" cy="419.7" r="3.8"/>
<circle cx="514.2" cy="270.2" r="3.8"/><circle cx="381.7" cy="333.8" r="3.8"/><circle cx="388.1" cy="369.6" r="3.8"/><circle cx="297.4" cy="406.0" r="3.8"/><circle cx="391.1" cy="343.1" r="3.8"/><circle cx="508.3" cy="272.5" r="3.8"/>
<circle cx="509.2" cy="269.7" r="3.8"/><circle cx="407.6" cy="303.0" r="3.8"/><circle cx="410.0" cy="357.3" r="3.8"/><circle cx="583.7" cy="254.6" r="3.8"/><circle cx="410.0" cy="341.6" r="3.8"/><circle cx="468.6" cy="308.8" r="3.8"/>
<circle cx="609.7" cy="216.2" r="3.8"/><circle cx="330.7" cy="409.3" r="3.8"/><circle cx="628.9" cy="256.6" r="3.8"/><circle cx="535.6" cy="291.7" r="3.8"/><circle cx="654.5" cy="198.1" r="3.8"/><circle cx="367.5" cy="389.9" r="3.8"/>
<circle cx="444.6" cy="351.5" r="3.8"/><circle cx="374.9" cy="355.9" r="3.8"/><circle cx="312.1" cy="374.1" r="3.8"/><circle cx="431.9" cy="351.3" r="3.8"/><circle cx="412.5" cy="384.0" r="3.8"/><circle cx="549.1" cy="235.6" r="3.8"/>
<circle cx="442.9" cy="345.8" r="3.8"/><circle cx="367.5" cy="377.0" r="3.8"/><circle cx="561.9" cy="277.0" r="3.8"/><circle cx="396.9" cy="350.3" r="3.8"/><circle cx="533.6" cy="304.1" r="3.8"/><circle cx="346.2" cy="400.6" r="3.8"/>
<circle cx="610.0" cy="246.4" r="3.8"/><circle cx="289.0" cy="437.8" r="3.8"/><circle cx="330.7" cy="372.4" r="3.8"/><circle cx="491.0" cy="321.4" r="3.8"/><circle cx="371.3" cy="377.0" r="3.8"/><circle cx="324.9" cy="431.2" r="3.8"/>
<circle cx="617.0" cy="207.7" r="3.8"/><circle cx="467.3" cy="310.8" r="3.8"/><circle cx="591.0" cy="267.9" r="3.8"/><circle cx="371.3" cy="389.1" r="3.8"/><circle cx="336.1" cy="419.7" r="3.8"/><circle cx="423.7" cy="322.2" r="3.8"/>
<circle cx="385.0" cy="345.2" r="3.8"/><circle cx="464.6" cy="320.4" r="3.8"/><circle cx="508.3" cy="287.3" r="3.8"/><circle cx="513.4" cy="291.6" r="3.8"/><circle cx="431.9" cy="349.0" r="3.8"/><circle cx="330.7" cy="358.4" r="3.8"/>
<circle cx="391.1" cy="353.5" r="3.8"/><circle cx="539.5" cy="277.3" r="3.8"/><circle cx="363.6" cy="381.9" r="3.8"/><circle cx="645.9" cy="199.2" r="3.8"/><circle cx="472.6" cy="345.2" r="3.8"/><circle cx="289.0" cy="424.5" r="3.8"/>
<circle cx="571.4" cy="277.3" r="3.8"/><circle cx="318.7" cy="418.8" r="3.8"/><circle cx="458.9" cy="299.9" r="3.8"/><circle cx="530.8" cy="297.3" r="3.8"/><circle cx="444.6" cy="363.1" r="3.8"/><circle cx="552.5" cy="273.5" r="3.8"/>
<circle cx="336.1" cy="415.4" r="3.8"/><circle cx="427.9" cy="359.8" r="3.8"/><circle cx="665.6" cy="206.5" r="3.8"/><circle cx="677.2" cy="198.7" r="3.8"/><circle cx="346.2" cy="375.5" r="3.8"/><circle cx="446.3" cy="353.5" r="3.8"/>
<circle cx="433.8" cy="356.6" r="3.8"/><circle cx="662.2" cy="229.3" r="3.8"/><circle cx="391.1" cy="340.4" r="3.8"/><circle cx="388.1" cy="394.0" r="3.8"/><circle cx="632.6" cy="257.1" r="3.8"/><circle cx="478.7" cy="316.3" r="3.8"/>
<circle cx="429.9" cy="330.2" r="3.8"/><circle cx="448.0" cy="301.5" r="3.8"/><circle cx="562.4" cy="262.6" r="3.8"/><circle cx="610.4" cy="264.8" r="3.8"/><circle cx="297.4" cy="439.3" r="3.8"/><circle cx="498.1" cy="299.3" r="3.8"/>
<circle cx="407.6" cy="322.0" r="3.8"/><circle cx="402.4" cy="320.8" r="3.8"/><circle cx="402.4" cy="357.5" r="3.8"/><circle cx="396.9" cy="385.9" r="3.8"/><circle cx="421.6" cy="387.5" r="3.8"/><circle cx="533.6" cy="261.0" r="3.8"/>
<circle cx="350.9" cy="375.8" r="3.8"/><circle cx="402.4" cy="347.4" r="3.8"/><circle cx="391.1" cy="384.8" r="3.8"/><circle cx="414.8" cy="337.5" r="3.8"/><circle cx="528.0" cy="289.4" r="3.8"/><circle cx="391.1" cy="361.8" r="3.8"/>
<circle cx="402.4" cy="364.4" r="3.8"/><circle cx="324.9" cy="386.3" r="3.8"/><circle cx="532.2" cy="295.0" r="3.8"/><circle cx="330.7" cy="374.7" r="3.8"/><circle cx="467.3" cy="308.9" r="3.8"/><circle cx="659.3" cy="244.0" r="3.8"/>
<circle cx="346.2" cy="378.0" r="3.8"/><circle cx="529.4" cy="306.2" r="3.8"/><circle cx="448.0" cy="309.2" r="3.8"/><circle cx="414.8" cy="362.0" r="3.8"/><circle cx="535.6" cy="282.2" r="3.8"/><circle cx="522.9" cy="289.6" r="3.8"/>
<circle cx="427.9" cy="329.4" r="3.8"/><circle cx="433.8" cy="355.3" r="3.8"/><circle cx="425.8" cy="353.5" r="3.8"/><circle cx="341.3" cy="421.5" r="3.8"/><circle cx="396.9" cy="347.0" r="3.8"/><circle cx="449.6" cy="341.3" r="3.8"/>
<circle cx="378.4" cy="364.6" r="3.8"/><circle cx="464.6" cy="362.2" r="3.8"/><circle cx="305.0" cy="432.4" r="3.8"/><circle cx="622.5" cy="247.6" r="3.8"/><circle cx="682.9" cy="222.2" r="3.8"/><circle cx="466.0" cy="349.8" r="3.8"/>
<circle cx="312.1" cy="375.5" r="3.8"/><circle cx="501.0" cy="280.7" r="3.8"/><circle cx="363.6" cy="368.1" r="3.8"/><circle cx="425.8" cy="366.4" r="3.8"/><circle cx="410.0" cy="348.0" r="3.8"/><circle cx="522.9" cy="273.6" r="3.8"/>
<circle cx="399.7" cy="364.4" r="3.8"/><circle cx="532.2" cy="300.0" r="3.8"/><circle cx="425.8" cy="364.6" r="3.8"/><circle cx="470.0" cy="316.5" r="3.8"/><circle cx="504.7" cy="280.4" r="3.8"/><circle cx="305.0" cy="374.7" r="3.8"/>
<circle cx="435.7" cy="309.1" r="3.8"/><circle cx="475.1" cy="323.0" r="3.8"/><circle cx="452.8" cy="324.5" r="3.8"/><circle cx="297.4" cy="444.1" r="3.8"/><circle cx="556.2" cy="252.3" r="3.8"/><circle cx="536.2" cy="297.2" r="3.8"/>
<circle cx="385.0" cy="358.2" r="3.8"/><circle cx="367.5" cy="370.6" r="3.8"/><circle cx="363.6" cy="367.6" r="3.8"/><circle cx="558.9" cy="272.1" r="3.8"/><circle cx="324.9" cy="417.0" r="3.8"/><circle cx="604.4" cy="271.7" r="3.8"/>
<circle cx="449.6" cy="345.2" r="3.8"/><circle cx="394.1" cy="387.1" r="3.8"/><circle cx="305.0" cy="425.5" r="3.8"/><circle cx="359.6" cy="401.8" r="3.8"/><circle cx="485.6" cy="284.9" r="3.8"/><circle cx="412.5" cy="374.1" r="3.8"/>
<circle cx="668.4" cy="245.3" r="3.8"/><circle cx="363.6" cy="365.0" r="3.8"/><circle cx="470.0" cy="315.8" r="3.8"/><circle cx="464.6" cy="346.2" r="3.8"/><circle cx="455.9" cy="309.3" r="3.8"/><circle cx="367.5" cy="337.9" r="3.8"/>
<circle cx="297.4" cy="391.2" r="3.8"/><circle cx="640.4" cy="217.5" r="3.8"/><circle cx="555.7" cy="270.9" r="3.8"/><circle cx="500.1" cy="271.4" r="3.8"/><circle cx="405.0" cy="338.3" r="3.8"/><circle cx="385.0" cy="370.8" r="3.8"/>
<circle cx="588.8" cy="272.9" r="3.8"/><circle cx="312.1" cy="351.8" r="3.8"/><circle cx="427.9" cy="371.1" r="3.8"/><circle cx="385.0" cy="341.1" r="3.8"/><circle cx="405.0" cy="349.9" r="3.8"/><circle cx="464.6" cy="322.0" r="3.8"/>
<circle cx="367.5" cy="356.4" r="3.8"/><circle cx="446.3" cy="310.5" r="3.8"/><circle cx="532.9" cy="299.4" r="3.8"/><circle cx="658.4" cy="222.4" r="3.8"/><circle cx="583.3" cy="239.4" r="3.8"/><circle cx="433.8" cy="351.2" r="3.8"/>
<circle cx="305.0" cy="379.2" r="3.8"/><circle cx="439.4" cy="360.0" r="3.8"/><circle cx="496.2" cy="317.5" r="3.8"/><circle cx="402.4" cy="326.9" r="3.8"/><circle cx="721.6" cy="202.8" r="3.8"/><circle cx="374.9" cy="322.4" r="3.8"/>
<circle cx="396.9" cy="316.1" r="3.8"/><circle cx="615.1" cy="256.0" r="3.8"/><circle cx="346.2" cy="396.9" r="3.8"/><circle cx="461.8" cy="351.5" r="3.8"/><circle cx="336.1" cy="360.8" r="3.8"/><circle cx="605.7" cy="270.0" r="3.8"/>
<circle cx="455.9" cy="319.8" r="3.8"/><circle cx="516.7" cy="302.0" r="3.8"/><circle cx="607.3" cy="259.9" r="3.8"/><circle cx="402.4" cy="380.5" r="3.8"/><circle cx="336.1" cy="384.4" r="3.8"/><circle cx="458.9" cy="313.8" r="3.8"/>
<circle cx="318.7" cy="383.3" r="3.8"/><circle cx="557.8" cy="277.1" r="3.8"/><circle cx="628.7" cy="244.0" r="3.8"/><circle cx="297.4" cy="420.6" r="3.8"/><circle cx="402.4" cy="348.9" r="3.8"/><circle cx="429.9" cy="337.7" r="3.8"/>
<circle cx="488.9" cy="312.8" r="3.8"/><circle cx="330.7" cy="348.7" r="3.8"/><circle cx="330.7" cy="367.6" r="3.8"/><circle cx="318.7" cy="425.5" r="3.8"/><circle cx="394.1" cy="394.0" r="3.8"/><circle cx="487.8" cy="293.1" r="3.8"/>
<circle cx="405.0" cy="369.3" r="3.8"/><circle cx="494.1" cy="301.6" r="3.8"/><circle cx="305.0" cy="416.2" r="3.8"/><circle cx="391.1" cy="355.7" r="3.8"/><circle cx="305.0" cy="371.1" r="3.8"/><circle cx="452.8" cy="331.3" r="3.8"/>
<circle cx="312.1" cy="423.5" r="3.8"/><circle cx="501.9" cy="286.3" r="3.8"/><circle cx="427.9" cy="344.3" r="3.8"/><circle cx="289.0" cy="449.6" r="3.8"/><circle cx="341.3" cy="390.8" r="3.8"/><circle cx="463.2" cy="319.8" r="3.8"/>
<circle cx="421.6" cy="370.3" r="3.8"/><circle cx="381.7" cy="384.0" r="3.8"/><circle cx="580.1" cy="270.5" r="3.8"/><circle cx="388.1" cy="391.2" r="3.8"/><circle cx="336.1" cy="387.9" r="3.8"/><circle cx="460.3" cy="356.4" r="3.8"/>
<circle cx="444.6" cy="315.0" r="3.8"/><circle cx="488.9" cy="306.6" r="3.8"/><circle cx="553.6" cy="303.3" r="3.8"/><circle cx="402.4" cy="314.8" r="3.8"/><circle cx="346.2" cy="388.7" r="3.8"/><circle cx="619.3" cy="203.3" r="3.8"/>
<circle cx="680.5" cy="208.2" r="3.8"/><circle cx="359.6" cy="389.5" r="3.8"/><circle cx="396.9" cy="370.3" r="3.8"/><circle cx="488.9" cy="338.2" r="3.8"/><circle cx="421.6" cy="325.9" r="3.8"/><circle cx="522.1" cy="314.9" r="3.8"/>
<circle cx="460.3" cy="331.9" r="3.8"/><circle cx="468.6" cy="298.0" r="3.8"/><circle cx="324.9" cy="417.9" r="3.8"/><circle cx="472.6" cy="302.2" r="3.8"/><circle cx="569.6" cy="250.9" r="3.8"/><circle cx="388.1" cy="395.4" r="3.8"/>
<circle cx="518.3" cy="282.1" r="3.8"/><circle cx="324.9" cy="398.4" r="3.8"/><circle cx="421.6" cy="320.3" r="3.8"/><circle cx="318.7" cy="368.6" r="3.8"/><circle cx="371.3" cy="365.9" r="3.8"/><circle cx="501.9" cy="306.2" r="3.8"/>
<circle cx="458.9" cy="340.6" r="3.8"/><circle cx="582.9" cy="248.7" r="3.8"/><circle cx="330.7" cy="408.6" r="3.8"/><circle cx="537.5" cy="302.0" r="3.8"/><circle cx="435.7" cy="337.1" r="3.8"/><circle cx="472.6" cy="298.0" r="3.8"/>
<circle cx="427.9" cy="349.8" r="3.8"/><circle cx="414.8" cy="356.0" r="3.8"/><circle cx="435.7" cy="310.0" r="3.8"/><circle cx="515.9" cy="307.2" r="3.8"/><circle cx="330.7" cy="384.8" r="3.8"/><circle cx="499.1" cy="284.9" r="3.8"/>
<circle cx="439.4" cy="323.5" r="3.8"/><circle cx="446.3" cy="332.9" r="3.8"/><circle cx="363.6" cy="370.3" r="3.8"/><circle cx="371.3" cy="352.5" r="3.8"/><circle cx="346.2" cy="369.1" r="3.8"/><circle cx="423.7" cy="345.2" r="3.8"/>
<circle cx="289.0" cy="404.7" r="3.8"/><circle cx="330.7" cy="389.1" r="3.8"/><circle cx="367.5" cy="395.4" r="3.8"/><circle cx="476.3" cy="332.0" r="3.8"/><circle cx="492.1" cy="333.3" r="3.8"/><circle cx="410.0" cy="373.8" r="3.8"/>
<circle cx="381.7" cy="349.6" r="3.8"/><circle cx="640.2" cy="230.2" r="3.8"/><circle cx="616.5" cy="253.7" r="3.8"/><circle cx="500.1" cy="285.4" r="3.8"/><circle cx="374.9" cy="346.7" r="3.8"/><circle cx="619.5" cy="277.6" r="3.8"/>
<circle cx="448.0" cy="361.0" r="3.8"/><circle cx="454.4" cy="331.5" r="3.8"/><circle cx="676.2" cy="215.7" r="3.8"/><circle cx="363.6" cy="361.4" r="3.8"/><circle cx="461.8" cy="338.4" r="3.8"/><circle cx="532.2" cy="276.9" r="3.8"/>
<circle cx="346.2" cy="360.4" r="3.8"/><circle cx="491.0" cy="308.5" r="3.8"/><circle cx="449.6" cy="319.4" r="3.8"/><circle cx="500.1" cy="302.6" r="3.8"/><circle cx="363.6" cy="400.6" r="3.8"/><circle cx="388.1" cy="347.7" r="3.8"/>
<circle cx="396.9" cy="350.9" r="3.8"/><circle cx="511.7" cy="302.6" r="3.8"/><circle cx="297.4" cy="416.2" r="3.8"/><circle cx="660.6" cy="195.4" r="3.8"/><circle cx="412.5" cy="349.9" r="3.8"/><circle cx="623.8" cy="239.5" r="3.8"/>
<circle cx="324.9" cy="381.6" r="3.8"/><circle cx="505.6" cy="263.3" r="3.8"/><circle cx="429.9" cy="340.4" r="3.8"/>
</g>
<g clip-path="url(#cp)"><line x1="59.8" y1="518.8" x2="981.4" y2="52.4" stroke="#111" stroke-width="1.6"/></g>
<g fill="none" stroke-width="2">
<path d="M58.8 52.4 H1066.3 V567.6" stroke="#727272"/>
<path d="M59.8 51.4 V566.6 H1067.3" stroke="#4a4a4a"/>
</g>
<g stroke="#4a4a4a" stroke-width="1.9">
<line x1="59.8" y1="566.6" x2="59.8" y2="576.9"/><line x1="251.0" y1="566.6" x2="251.0" y2="576.9"/><line x1="442.2" y1="566.6" x2="442.2" y2="576.9"/><line x1="633.4" y1="566.6" x2="633.4" y2="576.9"/><line x1="824.6" y1="566.6" x2="824.6" y2="576.9"/><line x1="1015.8" y1="566.6" x2="1015.8" y2="576.9"/>
<line x1="49.3" y1="566.6" x2="59.8" y2="566.6"/><line x1="49.3" y1="488.5" x2="59.8" y2="488.5"/><line x1="49.3" y1="410.3" x2="59.8" y2="410.3"/><line x1="49.3" y1="332.2" x2="59.8" y2="332.2"/><line x1="49.3" y1="254.0" x2="59.8" y2="254.0"/><line x1="49.3" y1="175.9" x2="59.8" y2="175.9"/><line x1="49.3" y1="97.7" x2="59.8" y2="97.7"/>
</g>
<g class="tk" text-anchor="middle">
<text transform="translate(59.5,593.4) scale(0.965,1)">.0</text><text transform="translate(250.7,593.4) scale(0.965,1)">2.0</text><text transform="translate(441.9,593.4) scale(0.965,1)">4.0</text><text transform="translate(633.1,593.4) scale(0.965,1)">6.0</text><text transform="translate(824.3,593.4) scale(0.965,1)">8.0</text><text transform="translate(1015.5,593.4) scale(0.965,1)">10.0</text>
</g>
<g class="tk" text-anchor="end">
<text transform="translate(48.6,574.9) scale(0.965,1)">.0</text><text transform="translate(48.6,496.8) scale(0.965,1)">2.0</text><text transform="translate(48.6,418.6) scale(0.965,1)">4.0</text><text transform="translate(48.6,340.5) scale(0.965,1)">6.0</text><text transform="translate(48.6,262.3) scale(0.965,1)">8.0</text><text transform="translate(48.6,184.2) scale(0.965,1)">10.0</text><text transform="translate(48.6,106.0) scale(0.965,1)">12.0</text>
</g>
<text class="ttl" x="124.0" y="46.2" font-size="18.85px" textLength="833.6" lengthAdjust="spacing" xml:space="preserve">log Cumulative Citations of  Funded Papers in Journals of Basic Sciences (2016-2021 period)</text>
<text class="ttl" x="308.3" y="622.2" font-size="17.4px" textLength="509.4" lengthAdjust="spacing" xml:space="preserve">log Funded Papers in Journals of  Basic Sciences (2016 year)</text>
<circle cx="831.2" cy="60.3" r="3.8" fill="none" stroke="#eb333b" stroke-width="1.65" stroke-opacity="0.85"/>
<line x1="819.8" y1="76.1" x2="842.2" y2="76.1" stroke="#111" stroke-width="1.6"/>
<text class="lg" x="846.0" y="66.6" textLength="57.0" lengthAdjust="spacing">Observed</text>
<text class="lg" x="846.0" y="81.5">Linear</text>
<rect x="478.3" y="270.6" width="83.2" height="16.4" fill="#fff" stroke="#222" stroke-width="1.3"/>
<text x="479.0" y="282.7" font-size="12.9px" fill="#000" textLength="81.8" lengthAdjust="spacing">1.24 * x + 1.20</text>
</svg>
</body></html>
